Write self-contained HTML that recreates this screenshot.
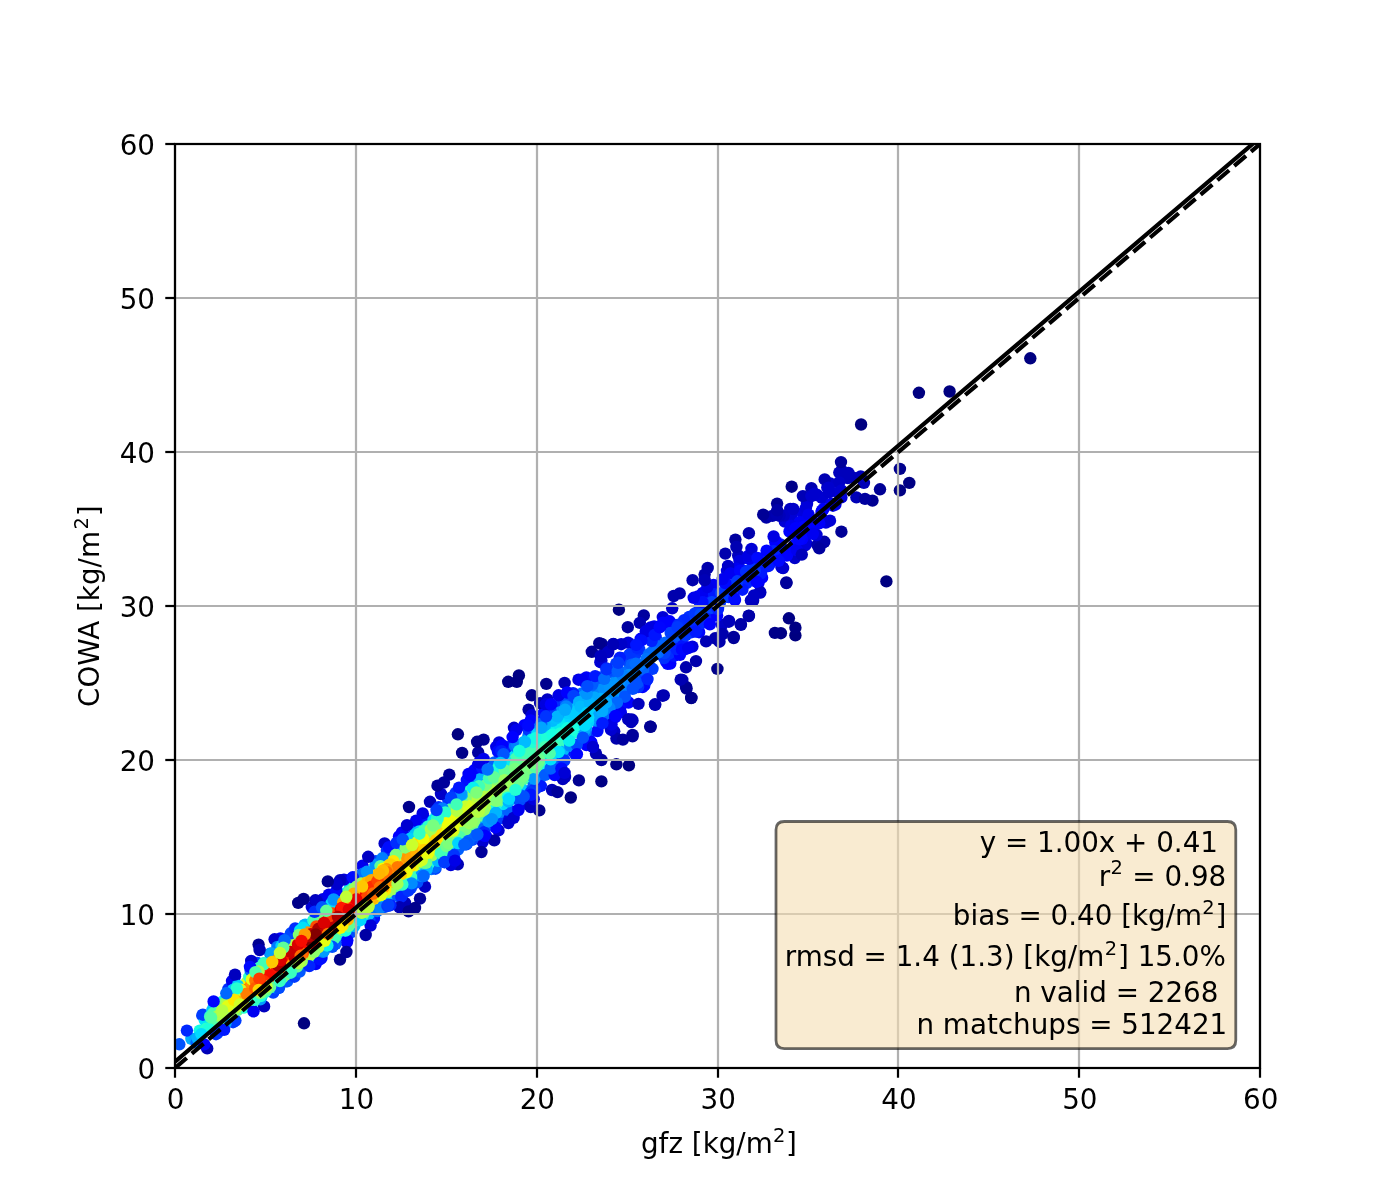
<!DOCTYPE html>
<html lang="en"><head><meta charset="utf-8"><title>gfz vs COWA scatter</title>
<style>html,body{margin:0;padding:0;background:#fff}svg{display:block}text{font-family:"DejaVu Sans","Liberation Sans",sans-serif;fill:#000}</style></head><body>
<svg width="1400" height="1200" viewBox="0 0 1400 1200">
<defs><clipPath id="ax"><rect x="175" y="144" width="1085" height="924"/></clipPath></defs>
<rect width="1400" height="1200" fill="#fff"/>
<g clip-path="url(#ax)">
<circle cx="766.4" cy="517.6" r="6.21" fill="#0000a8"/>
<circle cx="199.7" cy="1030.7" r="6.21" fill="#13fce4"/>
<circle cx="268.9" cy="991.0" r="6.21" fill="#00e4f8"/>
<circle cx="480.0" cy="796.0" r="6.21" fill="#baff3c"/>
<circle cx="302.9" cy="960.2" r="6.21" fill="#a0ff56"/>
<circle cx="699.1" cy="632.2" r="6.21" fill="#0004ff"/>
<circle cx="393.0" cy="859.6" r="6.21" fill="#c7ff30"/>
<circle cx="514.8" cy="756.8" r="6.21" fill="#30ffc7"/>
<circle cx="533.1" cy="750.8" r="6.21" fill="#40ffb7"/>
<circle cx="417.0" cy="867.2" r="6.21" fill="#a7ff50"/>
<circle cx="807.0" cy="504.0" r="6.21" fill="#0000d6"/>
<circle cx="414.4" cy="855.4" r="6.21" fill="#ffae00"/>
<circle cx="521.9" cy="778.3" r="6.21" fill="#6dff8a"/>
<circle cx="589.6" cy="697.2" r="6.21" fill="#00a8ff"/>
<circle cx="420.2" cy="827.5" r="6.21" fill="#0084ff"/>
<circle cx="248.8" cy="995.2" r="6.21" fill="#ffae00"/>
<circle cx="544.1" cy="774.2" r="6.21" fill="#0068ff"/>
<circle cx="556.2" cy="731.2" r="6.21" fill="#0ff8e7"/>
<circle cx="214.0" cy="1006.9" r="6.21" fill="#0094ff"/>
<circle cx="297.4" cy="941.7" r="6.21" fill="#ff7300"/>
<circle cx="542.3" cy="733.0" r="6.21" fill="#0ff8e7"/>
<circle cx="267.5" cy="978.4" r="6.21" fill="#ff2500"/>
<circle cx="577.9" cy="712.6" r="6.21" fill="#00c8ff"/>
<circle cx="299.8" cy="947.7" r="6.21" fill="#800000"/>
<circle cx="817.6" cy="495.3" r="6.21" fill="#0000d1"/>
<circle cx="528.4" cy="735.7" r="6.21" fill="#007cff"/>
<circle cx="690.8" cy="616.9" r="6.21" fill="#0038ff"/>
<circle cx="422.9" cy="848.5" r="6.21" fill="#ffc100"/>
<circle cx="285.6" cy="959.8" r="6.21" fill="#960000"/>
<circle cx="467.6" cy="787.5" r="6.21" fill="#0080ff"/>
<circle cx="410.1" cy="873.2" r="6.21" fill="#a0ff56"/>
<circle cx="724.5" cy="581.7" r="6.21" fill="#0000ff"/>
<circle cx="339.2" cy="918.9" r="6.21" fill="#df0000"/>
<circle cx="497.8" cy="792.4" r="6.21" fill="#aaff4d"/>
<circle cx="269.4" cy="981.9" r="6.21" fill="#ffbd00"/>
<circle cx="444.1" cy="848.2" r="6.21" fill="#6aff8d"/>
<circle cx="281.5" cy="975.8" r="6.21" fill="#c1ff36"/>
<circle cx="272.6" cy="974.8" r="6.21" fill="#ff1e00"/>
<circle cx="791.7" cy="486.7" r="6.21" fill="#000089"/>
<circle cx="527.0" cy="796.6" r="6.21" fill="#0028ff"/>
<circle cx="391.4" cy="875.3" r="6.21" fill="#ff7700"/>
<circle cx="824.3" cy="541.8" r="6.21" fill="#0000a4"/>
<circle cx="490.3" cy="780.3" r="6.21" fill="#66ff90"/>
<circle cx="343.6" cy="905.7" r="6.21" fill="#ff2900"/>
<circle cx="417.4" cy="874.2" r="6.21" fill="#0cf4eb"/>
<circle cx="320.0" cy="936.7" r="6.21" fill="#ed0400"/>
<circle cx="264.8" cy="979.4" r="6.21" fill="#ff1a00"/>
<circle cx="286.3" cy="951.2" r="6.21" fill="#ff7a00"/>
<circle cx="368.9" cy="875.2" r="6.21" fill="#50ffa7"/>
<circle cx="582.0" cy="693.4" r="6.21" fill="#0070ff"/>
<circle cx="482.7" cy="841.9" r="6.21" fill="#0000d1"/>
<circle cx="367.6" cy="886.5" r="6.21" fill="#ff4a00"/>
<circle cx="286.4" cy="952.5" r="6.21" fill="#ff3f00"/>
<circle cx="285.6" cy="981.3" r="6.21" fill="#007cff"/>
<circle cx="564.6" cy="682.9" r="6.21" fill="#0000b2"/>
<circle cx="508.4" cy="773.3" r="6.21" fill="#80ff77"/>
<circle cx="275.9" cy="975.1" r="6.21" fill="#ff7300"/>
<circle cx="381.5" cy="895.4" r="6.21" fill="#caff2c"/>
<circle cx="729.7" cy="590.9" r="6.21" fill="#003cff"/>
<circle cx="686.8" cy="647.3" r="6.21" fill="#0000ff"/>
<circle cx="246.7" cy="1005.3" r="6.21" fill="#33ffc4"/>
<circle cx="764.0" cy="558.9" r="6.21" fill="#0028ff"/>
<circle cx="289.0" cy="959.2" r="6.21" fill="#9f0000"/>
<circle cx="552.0" cy="790.0" r="6.21" fill="#0000b6"/>
<circle cx="422.0" cy="869.2" r="6.21" fill="#29ffce"/>
<circle cx="899.9" cy="490.4" r="6.21" fill="#000084"/>
<circle cx="529.1" cy="804.8" r="6.21" fill="#0000d6"/>
<circle cx="435.7" cy="817.6" r="6.21" fill="#00d0ff"/>
<circle cx="310.4" cy="951.1" r="6.21" fill="#ffde00"/>
<circle cx="365.5" cy="890.0" r="6.21" fill="#ff2900"/>
<circle cx="558.9" cy="766.7" r="6.21" fill="#0030ff"/>
<circle cx="246.1" cy="988.0" r="6.21" fill="#ffae00"/>
<circle cx="601.7" cy="644.0" r="6.21" fill="#000096"/>
<circle cx="628.9" cy="765.4" r="6.21" fill="#000080"/>
<circle cx="256.6" cy="979.8" r="6.21" fill="#ff6000"/>
<circle cx="254.6" cy="988.1" r="6.21" fill="#ff5500"/>
<circle cx="352.1" cy="903.9" r="6.21" fill="#da0000"/>
<circle cx="338.6" cy="899.2" r="6.21" fill="#33ffc4"/>
<circle cx="296.6" cy="929.7" r="6.21" fill="#0068ff"/>
<circle cx="265.0" cy="980.8" r="6.21" fill="#ff3800"/>
<circle cx="328.2" cy="909.5" r="6.21" fill="#6aff8d"/>
<circle cx="342.6" cy="896.8" r="6.21" fill="#53ffa4"/>
<circle cx="356.6" cy="910.2" r="6.21" fill="#ff8600"/>
<circle cx="289.6" cy="955.3" r="6.21" fill="#920000"/>
<circle cx="317.6" cy="917.5" r="6.21" fill="#46ffb1"/>
<circle cx="333.0" cy="925.9" r="6.21" fill="#ff1300"/>
<circle cx="411.5" cy="832.8" r="6.21" fill="#005cff"/>
<circle cx="490.1" cy="808.1" r="6.21" fill="#70ff87"/>
<circle cx="462.0" cy="802.1" r="6.21" fill="#66ff90"/>
<circle cx="382.3" cy="867.0" r="6.21" fill="#a7ff50"/>
<circle cx="380.7" cy="884.0" r="6.21" fill="#ff5900"/>
<circle cx="483.6" cy="800.7" r="6.21" fill="#c1ff36"/>
<circle cx="289.9" cy="966.3" r="6.21" fill="#ffb900"/>
<circle cx="786.4" cy="582.5" r="6.21" fill="#00009b"/>
<circle cx="512.8" cy="771.9" r="6.21" fill="#80ff77"/>
<circle cx="673.6" cy="624.9" r="6.21" fill="#0014ff"/>
<circle cx="191.4" cy="1038.8" r="6.21" fill="#00b0ff"/>
<circle cx="856.4" cy="497.4" r="6.21" fill="#0000b6"/>
<circle cx="338.3" cy="924.6" r="6.21" fill="#ff6400"/>
<circle cx="247.3" cy="989.1" r="6.21" fill="#ff7e00"/>
<circle cx="346.8" cy="942.2" r="6.21" fill="#0000e3"/>
<circle cx="601.4" cy="781.4" r="6.21" fill="#000084"/>
<circle cx="378.9" cy="871.0" r="6.21" fill="#d7ff1f"/>
<circle cx="208.1" cy="1026.0" r="6.21" fill="#43ffb4"/>
<circle cx="632.5" cy="720.4" r="6.21" fill="#0000bb"/>
<circle cx="308.1" cy="948.3" r="6.21" fill="#ff3400"/>
<circle cx="379.1" cy="866.2" r="6.21" fill="#36ffc1"/>
<circle cx="540.6" cy="754.9" r="6.21" fill="#60ff97"/>
<circle cx="732.2" cy="596.5" r="6.21" fill="#0020ff"/>
<circle cx="261.9" cy="995.4" r="6.21" fill="#16ffe1"/>
<circle cx="315.7" cy="964.1" r="6.21" fill="#0000fa"/>
<circle cx="373.0" cy="903.9" r="6.21" fill="#a4ff53"/>
<circle cx="418.9" cy="855.7" r="6.21" fill="#ffcc00"/>
<circle cx="517.6" cy="769.7" r="6.21" fill="#7dff7a"/>
<circle cx="407.1" cy="873.2" r="6.21" fill="#d1ff26"/>
<circle cx="334.8" cy="931.4" r="6.21" fill="#ffdb00"/>
<circle cx="376.7" cy="862.6" r="6.21" fill="#0074ff"/>
<circle cx="516.7" cy="797.4" r="6.21" fill="#0088ff"/>
<circle cx="373.9" cy="918.2" r="6.21" fill="#0014ff"/>
<circle cx="542.0" cy="733.8" r="6.21" fill="#13fce4"/>
<circle cx="614.2" cy="731.3" r="6.21" fill="#0000c4"/>
<circle cx="519.8" cy="801.4" r="6.21" fill="#003cff"/>
<circle cx="396.3" cy="850.1" r="6.21" fill="#00dcfe"/>
<circle cx="274.7" cy="986.5" r="6.21" fill="#06ecf1"/>
<circle cx="262.6" cy="974.9" r="6.21" fill="#ff3f00"/>
<circle cx="557.8" cy="706.5" r="6.21" fill="#002cff"/>
<circle cx="295.4" cy="943.0" r="6.21" fill="#ff8600"/>
<circle cx="407.8" cy="858.7" r="6.21" fill="#ff9800"/>
<circle cx="672.2" cy="608.3" r="6.21" fill="#0000c8"/>
<circle cx="362.6" cy="896.1" r="6.21" fill="#ff1300"/>
<circle cx="277.6" cy="962.5" r="6.21" fill="#e80000"/>
<circle cx="501.8" cy="804.5" r="6.21" fill="#02e8f4"/>
<circle cx="255.6" cy="971.8" r="6.21" fill="#49ffad"/>
<circle cx="770.6" cy="561.9" r="6.21" fill="#001cff"/>
<circle cx="272.9" cy="964.0" r="6.21" fill="#ff5900"/>
<circle cx="487.1" cy="782.2" r="6.21" fill="#60ff97"/>
<circle cx="624.1" cy="688.3" r="6.21" fill="#007cff"/>
<circle cx="605.8" cy="715.1" r="6.21" fill="#0058ff"/>
<circle cx="298.1" cy="946.4" r="6.21" fill="#9f0000"/>
<circle cx="440.6" cy="847.5" r="6.21" fill="#a4ff53"/>
<circle cx="830.2" cy="483.4" r="6.21" fill="#0000c8"/>
<circle cx="509.4" cy="754.4" r="6.21" fill="#00b4ff"/>
<circle cx="592.1" cy="702.2" r="6.21" fill="#00b4ff"/>
<circle cx="454.6" cy="816.6" r="6.21" fill="#e4ff13"/>
<circle cx="506.8" cy="772.8" r="6.21" fill="#7aff7d"/>
<circle cx="437.7" cy="823.8" r="6.21" fill="#a0ff56"/>
<circle cx="331.4" cy="917.7" r="6.21" fill="#c80000"/>
<circle cx="293.2" cy="944.9" r="6.21" fill="#ff8600"/>
<circle cx="319.6" cy="937.2" r="6.21" fill="#f10800"/>
<circle cx="398.5" cy="861.3" r="6.21" fill="#ff9800"/>
<circle cx="273.2" cy="992.6" r="6.21" fill="#0040ff"/>
<circle cx="510.4" cy="775.6" r="6.21" fill="#8dff6a"/>
<circle cx="738.2" cy="555.5" r="6.21" fill="#0000bf"/>
<circle cx="466.1" cy="833.5" r="6.21" fill="#29ffce"/>
<circle cx="394.1" cy="876.2" r="6.21" fill="#ff9800"/>
<circle cx="416.9" cy="868.7" r="6.21" fill="#8aff6d"/>
<circle cx="364.8" cy="908.7" r="6.21" fill="#d7ff1f"/>
<circle cx="426.7" cy="838.6" r="6.21" fill="#ffdb00"/>
<circle cx="374.0" cy="869.0" r="6.21" fill="#0ff8e7"/>
<circle cx="520.8" cy="775.2" r="6.21" fill="#87ff70"/>
<circle cx="345.3" cy="920.8" r="6.21" fill="#ffa300"/>
<circle cx="715.1" cy="638.3" r="6.21" fill="#0000ad"/>
<circle cx="557.5" cy="792.1" r="6.21" fill="#00009b"/>
<circle cx="391.8" cy="889.9" r="6.21" fill="#80ff77"/>
<circle cx="553.6" cy="714.4" r="6.21" fill="#006cff"/>
<circle cx="276.4" cy="967.5" r="6.21" fill="#b60000"/>
<circle cx="332.8" cy="937.1" r="6.21" fill="#90ff66"/>
<circle cx="430.0" cy="801.8" r="6.21" fill="#0000b6"/>
<circle cx="499.1" cy="779.0" r="6.21" fill="#8aff6d"/>
<circle cx="841.4" cy="531.7" r="6.21" fill="#000096"/>
<circle cx="315.0" cy="921.0" r="6.21" fill="#77ff80"/>
<circle cx="318.4" cy="936.8" r="6.21" fill="#c80000"/>
<circle cx="705.3" cy="606.2" r="6.21" fill="#003cff"/>
<circle cx="351.8" cy="913.2" r="6.21" fill="#ff6c00"/>
<circle cx="388.2" cy="899.1" r="6.21" fill="#00c0ff"/>
<circle cx="498.5" cy="830.4" r="6.21" fill="#0000d1"/>
<circle cx="539.8" cy="768.1" r="6.21" fill="#13fce4"/>
<circle cx="253.3" cy="975.6" r="6.21" fill="#8aff6d"/>
<circle cx="539.0" cy="742.0" r="6.21" fill="#29ffce"/>
<circle cx="392.0" cy="862.4" r="6.21" fill="#ffe600"/>
<circle cx="614.7" cy="691.6" r="6.21" fill="#009cff"/>
<circle cx="350.6" cy="905.3" r="6.21" fill="#d60000"/>
<circle cx="463.9" cy="828.5" r="6.21" fill="#97ff60"/>
<circle cx="269.2" cy="979.1" r="6.21" fill="#ff5500"/>
<circle cx="379.4" cy="891.7" r="6.21" fill="#ffab00"/>
<circle cx="410.9" cy="887.8" r="6.21" fill="#0040ff"/>
<circle cx="233.1" cy="1022.2" r="6.21" fill="#003cff"/>
<circle cx="791.6" cy="515.4" r="6.21" fill="#0000d6"/>
<circle cx="395.2" cy="865.7" r="6.21" fill="#ff7e00"/>
<circle cx="336.6" cy="913.9" r="6.21" fill="#c80000"/>
<circle cx="432.6" cy="852.6" r="6.21" fill="#baff3c"/>
<circle cx="634.2" cy="684.2" r="6.21" fill="#005cff"/>
<circle cx="487.9" cy="811.2" r="6.21" fill="#63ff94"/>
<circle cx="589.1" cy="734.0" r="6.21" fill="#0034ff"/>
<circle cx="528.6" cy="709.6" r="6.21" fill="#00009f"/>
<circle cx="728.9" cy="621.7" r="6.21" fill="#0000b6"/>
<circle cx="306.1" cy="957.0" r="6.21" fill="#b7ff40"/>
<circle cx="539.6" cy="737.7" r="6.21" fill="#1cffdb"/>
<circle cx="627.1" cy="660.1" r="6.21" fill="#0044ff"/>
<circle cx="752.3" cy="567.7" r="6.21" fill="#002cff"/>
<circle cx="245.9" cy="995.6" r="6.21" fill="#ff9400"/>
<circle cx="262.3" cy="981.7" r="6.21" fill="#ff2900"/>
<circle cx="554.1" cy="721.8" r="6.21" fill="#00d8ff"/>
<circle cx="524.1" cy="778.9" r="6.21" fill="#50ffa7"/>
<circle cx="350.3" cy="910.7" r="6.21" fill="#ff1e00"/>
<circle cx="464.0" cy="834.6" r="6.21" fill="#33ffc4"/>
<circle cx="496.6" cy="793.0" r="6.21" fill="#aaff4d"/>
<circle cx="421.5" cy="855.0" r="6.21" fill="#ffde00"/>
<circle cx="563.3" cy="722.5" r="6.21" fill="#00e4f8"/>
<circle cx="317.1" cy="944.2" r="6.21" fill="#ffa700"/>
<circle cx="329.2" cy="943.8" r="6.21" fill="#16ffe1"/>
<circle cx="358.6" cy="878.4" r="6.21" fill="#008cff"/>
<circle cx="254.9" cy="995.4" r="6.21" fill="#b7ff40"/>
<circle cx="237.4" cy="1010.1" r="6.21" fill="#5dff9a"/>
<circle cx="588.8" cy="741.1" r="6.21" fill="#0008ff"/>
<circle cx="451.3" cy="836.6" r="6.21" fill="#b4ff43"/>
<circle cx="671.6" cy="642.5" r="6.21" fill="#0058ff"/>
<circle cx="202.3" cy="1015.4" r="6.21" fill="#003cff"/>
<circle cx="555.2" cy="748.4" r="6.21" fill="#43ffb4"/>
<circle cx="518.9" cy="675.4" r="6.21" fill="#000084"/>
<circle cx="549.0" cy="757.8" r="6.21" fill="#29ffce"/>
<circle cx="321.5" cy="958.1" r="6.21" fill="#0008ff"/>
<circle cx="441.9" cy="826.6" r="6.21" fill="#f8f500"/>
<circle cx="358.2" cy="910.2" r="6.21" fill="#ffa700"/>
<circle cx="837.9" cy="492.6" r="6.21" fill="#0000d6"/>
<circle cx="587.8" cy="710.5" r="6.21" fill="#00ccff"/>
<circle cx="590.6" cy="699.2" r="6.21" fill="#00acff"/>
<circle cx="262.8" cy="979.2" r="6.21" fill="#ff1300"/>
<circle cx="613.0" cy="689.6" r="6.21" fill="#00a0ff"/>
<circle cx="356.4" cy="896.4" r="6.21" fill="#ff2200"/>
<circle cx="551.4" cy="758.2" r="6.21" fill="#02e8f4"/>
<circle cx="445.9" cy="828.2" r="6.21" fill="#ffea00"/>
<circle cx="503.8" cy="770.8" r="6.21" fill="#63ff94"/>
<circle cx="264.4" cy="982.1" r="6.21" fill="#ff4e00"/>
<circle cx="555.3" cy="768.6" r="6.21" fill="#0040ff"/>
<circle cx="331.1" cy="917.3" r="6.21" fill="#da0000"/>
<circle cx="243.3" cy="1002.7" r="6.21" fill="#c7ff30"/>
<circle cx="434.8" cy="858.7" r="6.21" fill="#30ffc7"/>
<circle cx="660.8" cy="646.1" r="6.21" fill="#0064ff"/>
<circle cx="563.7" cy="751.1" r="6.21" fill="#0098ff"/>
<circle cx="499.6" cy="806.4" r="6.21" fill="#06ecf1"/>
<circle cx="238.8" cy="995.5" r="6.21" fill="#ffc400"/>
<circle cx="290.3" cy="942.4" r="6.21" fill="#83ff73"/>
<circle cx="227.5" cy="1007.8" r="6.21" fill="#e1ff16"/>
<circle cx="597.4" cy="731.0" r="6.21" fill="#000cff"/>
<circle cx="571.2" cy="750.3" r="6.21" fill="#0048ff"/>
<circle cx="443.5" cy="843.5" r="6.21" fill="#b7ff40"/>
<circle cx="490.8" cy="797.1" r="6.21" fill="#b4ff43"/>
<circle cx="312.0" cy="933.5" r="6.21" fill="#bf0000"/>
<circle cx="461.5" cy="809.2" r="6.21" fill="#caff2c"/>
<circle cx="560.0" cy="704.7" r="6.21" fill="#002cff"/>
<circle cx="264.5" cy="963.2" r="6.21" fill="#36ffc1"/>
<circle cx="722.0" cy="625.0" r="6.21" fill="#0000c4"/>
<circle cx="521.5" cy="780.6" r="6.21" fill="#5aff9d"/>
<circle cx="359.1" cy="875.7" r="6.21" fill="#0050ff"/>
<circle cx="253.0" cy="1002.0" r="6.21" fill="#13fce4"/>
<circle cx="806.3" cy="543.5" r="6.21" fill="#0000df"/>
<circle cx="492.8" cy="808.1" r="6.21" fill="#4dffaa"/>
<circle cx="288.5" cy="956.2" r="6.21" fill="#920000"/>
<circle cx="296.4" cy="943.1" r="6.21" fill="#ff5d00"/>
<circle cx="326.4" cy="911.2" r="6.21" fill="#73ff83"/>
<circle cx="472.0" cy="805.8" r="6.21" fill="#d4ff23"/>
<circle cx="404.3" cy="857.9" r="6.21" fill="#ff9c00"/>
<circle cx="550.1" cy="754.5" r="6.21" fill="#40ffb7"/>
<circle cx="470.1" cy="820.6" r="6.21" fill="#adff49"/>
<circle cx="437.1" cy="844.1" r="6.21" fill="#e7ff0f"/>
<circle cx="622.1" cy="658.2" r="6.21" fill="#0030ff"/>
<circle cx="348.1" cy="908.5" r="6.21" fill="#d10000"/>
<circle cx="446.4" cy="823.2" r="6.21" fill="#f1fc06"/>
<circle cx="223.3" cy="1013.8" r="6.21" fill="#b4ff43"/>
<circle cx="461.3" cy="817.8" r="6.21" fill="#e4ff13"/>
<circle cx="305.0" cy="931.3" r="6.21" fill="#c4ff33"/>
<circle cx="464.8" cy="823.1" r="6.21" fill="#beff39"/>
<circle cx="216.9" cy="1033.0" r="6.21" fill="#003cff"/>
<circle cx="385.9" cy="871.0" r="6.21" fill="#ff8200"/>
<circle cx="363.8" cy="902.3" r="6.21" fill="#ff6800"/>
<circle cx="514.7" cy="811.6" r="6.21" fill="#0000ff"/>
<circle cx="253.6" cy="991.8" r="6.21" fill="#ff9f00"/>
<circle cx="314.8" cy="937.1" r="6.21" fill="#8d0000"/>
<circle cx="499.8" cy="800.1" r="6.21" fill="#63ff94"/>
<circle cx="790.3" cy="509.0" r="6.21" fill="#0000bf"/>
<circle cx="392.3" cy="887.6" r="6.21" fill="#adff49"/>
<circle cx="374.3" cy="891.9" r="6.21" fill="#ff6400"/>
<circle cx="593.3" cy="690.8" r="6.21" fill="#0090ff"/>
<circle cx="415.0" cy="847.1" r="6.21" fill="#ffcc00"/>
<circle cx="798.1" cy="537.6" r="6.21" fill="#0008ff"/>
<circle cx="659.6" cy="648.3" r="6.21" fill="#006cff"/>
<circle cx="497.5" cy="786.9" r="6.21" fill="#aaff4d"/>
<circle cx="510.9" cy="776.8" r="6.21" fill="#90ff66"/>
<circle cx="643.8" cy="615.4" r="6.21" fill="#00009f"/>
<circle cx="249.0" cy="997.6" r="6.21" fill="#f1fc06"/>
<circle cx="689.2" cy="616.9" r="6.21" fill="#0030ff"/>
<circle cx="502.5" cy="807.1" r="6.21" fill="#00b4ff"/>
<circle cx="520.0" cy="796.9" r="6.21" fill="#0070ff"/>
<circle cx="366.2" cy="918.8" r="6.21" fill="#0080ff"/>
<circle cx="509.2" cy="799.0" r="6.21" fill="#00d0ff"/>
<circle cx="389.4" cy="873.3" r="6.21" fill="#ff6400"/>
<circle cx="273.0" cy="964.2" r="6.21" fill="#ff4e00"/>
<circle cx="389.9" cy="849.5" r="6.21" fill="#0044ff"/>
<circle cx="783.1" cy="568.1" r="6.21" fill="#0000c8"/>
<circle cx="270.7" cy="983.3" r="6.21" fill="#d4ff23"/>
<circle cx="278.5" cy="979.1" r="6.21" fill="#9aff5d"/>
<circle cx="525.5" cy="751.1" r="6.21" fill="#39ffbe"/>
<circle cx="578.5" cy="679.7" r="6.21" fill="#0000e3"/>
<circle cx="625.7" cy="679.9" r="6.21" fill="#008cff"/>
<circle cx="455.3" cy="837.0" r="6.21" fill="#87ff70"/>
<circle cx="284.3" cy="980.1" r="6.21" fill="#00c8ff"/>
<circle cx="404.8" cy="892.1" r="6.21" fill="#0048ff"/>
<circle cx="245.4" cy="993.4" r="6.21" fill="#ff7e00"/>
<circle cx="358.0" cy="893.0" r="6.21" fill="#ff5500"/>
<circle cx="491.2" cy="790.3" r="6.21" fill="#b1ff46"/>
<circle cx="452.5" cy="819.3" r="6.21" fill="#eeff09"/>
<circle cx="603.8" cy="687.8" r="6.21" fill="#0090ff"/>
<circle cx="403.2" cy="875.1" r="6.21" fill="#eeff09"/>
<circle cx="739.5" cy="561.0" r="6.21" fill="#0000df"/>
<circle cx="341.4" cy="933.2" r="6.21" fill="#30ffc7"/>
<circle cx="750.3" cy="569.9" r="6.21" fill="#0030ff"/>
<circle cx="517.0" cy="760.7" r="6.21" fill="#53ffa4"/>
<circle cx="573.3" cy="732.5" r="6.21" fill="#1fffd7"/>
<circle cx="186.9" cy="1030.6" r="6.21" fill="#0028ff"/>
<circle cx="526.0" cy="767.4" r="6.21" fill="#7dff7a"/>
<circle cx="634.7" cy="645.4" r="6.21" fill="#000cff"/>
<circle cx="225.9" cy="1005.2" r="6.21" fill="#baff3c"/>
<circle cx="531.9" cy="790.5" r="6.21" fill="#0040ff"/>
<circle cx="609.1" cy="696.7" r="6.21" fill="#00a8ff"/>
<circle cx="287.4" cy="955.4" r="6.21" fill="#b20000"/>
<circle cx="354.0" cy="915.6" r="6.21" fill="#ffde00"/>
<circle cx="261.1" cy="996.7" r="6.21" fill="#00e4f8"/>
<circle cx="385.7" cy="901.4" r="6.21" fill="#00b8ff"/>
<circle cx="498.8" cy="818.8" r="6.21" fill="#003cff"/>
<circle cx="511.2" cy="760.6" r="6.21" fill="#39ffbe"/>
<circle cx="487.6" cy="801.2" r="6.21" fill="#b4ff43"/>
<circle cx="795.4" cy="635.4" r="6.21" fill="#000080"/>
<circle cx="728.5" cy="597.0" r="6.21" fill="#002cff"/>
<circle cx="382.6" cy="882.7" r="6.21" fill="#ff6000"/>
<circle cx="698.3" cy="617.5" r="6.21" fill="#004cff"/>
<circle cx="554.2" cy="746.4" r="6.21" fill="#4dffaa"/>
<circle cx="626.1" cy="678.8" r="6.21" fill="#008cff"/>
<circle cx="595.3" cy="691.3" r="6.21" fill="#0094ff"/>
<circle cx="531.4" cy="753.8" r="6.21" fill="#49ffad"/>
<circle cx="487.0" cy="802.7" r="6.21" fill="#b1ff46"/>
<circle cx="811.4" cy="488.2" r="6.21" fill="#0000b2"/>
<circle cx="574.8" cy="725.0" r="6.21" fill="#13fce4"/>
<circle cx="280.8" cy="968.6" r="6.21" fill="#ff1300"/>
<circle cx="271.3" cy="976.1" r="6.21" fill="#ff2900"/>
<circle cx="404.0" cy="887.6" r="6.21" fill="#00acff"/>
<circle cx="294.2" cy="969.6" r="6.21" fill="#46ffb1"/>
<circle cx="624.6" cy="672.7" r="6.21" fill="#0078ff"/>
<circle cx="439.0" cy="838.3" r="6.21" fill="#feed00"/>
<circle cx="266.1" cy="969.7" r="6.21" fill="#ff7300"/>
<circle cx="511.4" cy="754.4" r="6.21" fill="#00d4ff"/>
<circle cx="514.0" cy="727.8" r="6.21" fill="#0000c8"/>
<circle cx="595.8" cy="720.6" r="6.21" fill="#0090ff"/>
<circle cx="521.6" cy="755.1" r="6.21" fill="#43ffb4"/>
<circle cx="335.1" cy="903.3" r="6.21" fill="#5dff9a"/>
<circle cx="719.5" cy="641.7" r="6.21" fill="#0000ad"/>
<circle cx="381.3" cy="871.5" r="6.21" fill="#ffc800"/>
<circle cx="616.4" cy="738.6" r="6.21" fill="#0000ad"/>
<circle cx="802.9" cy="496.1" r="6.21" fill="#0000b6"/>
<circle cx="296.7" cy="957.6" r="6.21" fill="#ff3b00"/>
<circle cx="466.7" cy="828.5" r="6.21" fill="#73ff83"/>
<circle cx="345.4" cy="908.2" r="6.21" fill="#c80000"/>
<circle cx="353.9" cy="904.9" r="6.21" fill="#ed0400"/>
<circle cx="257.9" cy="982.2" r="6.21" fill="#ff2d00"/>
<circle cx="370.3" cy="884.9" r="6.21" fill="#ff4700"/>
<circle cx="649.6" cy="635.1" r="6.21" fill="#000cff"/>
<circle cx="494.3" cy="802.3" r="6.21" fill="#87ff70"/>
<circle cx="574.1" cy="710.8" r="6.21" fill="#00c8ff"/>
<circle cx="555.8" cy="743.0" r="6.21" fill="#46ffb1"/>
<circle cx="667.8" cy="659.4" r="6.21" fill="#0020ff"/>
<circle cx="474.0" cy="823.8" r="6.21" fill="#5aff9d"/>
<circle cx="422.4" cy="837.8" r="6.21" fill="#d4ff23"/>
<circle cx="413.4" cy="829.4" r="6.21" fill="#0038ff"/>
<circle cx="283.3" cy="961.2" r="6.21" fill="#9b0000"/>
<circle cx="548.6" cy="752.3" r="6.21" fill="#56ffa0"/>
<circle cx="387.6" cy="892.0" r="6.21" fill="#a0ff56"/>
<circle cx="378.7" cy="890.2" r="6.21" fill="#ff8900"/>
<circle cx="439.6" cy="832.6" r="6.21" fill="#ffde00"/>
<circle cx="276.9" cy="972.9" r="6.21" fill="#ff3f00"/>
<circle cx="435.8" cy="835.6" r="6.21" fill="#ffd700"/>
<circle cx="334.2" cy="921.5" r="6.21" fill="#b60000"/>
<circle cx="762.1" cy="577.7" r="6.21" fill="#0000ff"/>
<circle cx="448.1" cy="799.3" r="6.21" fill="#0030ff"/>
<circle cx="309.1" cy="939.3" r="6.21" fill="#800000"/>
<circle cx="291.4" cy="958.3" r="6.21" fill="#b60000"/>
<circle cx="518.1" cy="794.2" r="6.21" fill="#009cff"/>
<circle cx="270.5" cy="973.4" r="6.21" fill="#d60000"/>
<circle cx="297.3" cy="954.9" r="6.21" fill="#da0000"/>
<circle cx="343.4" cy="905.3" r="6.21" fill="#ff3800"/>
<circle cx="460.3" cy="831.1" r="6.21" fill="#9dff5a"/>
<circle cx="462.3" cy="806.1" r="6.21" fill="#aaff4d"/>
<circle cx="547.9" cy="743.6" r="6.21" fill="#36ffc1"/>
<circle cx="270.2" cy="953.7" r="6.21" fill="#0080ff"/>
<circle cx="248.4" cy="991.5" r="6.21" fill="#ff6c00"/>
<circle cx="821.5" cy="512.1" r="6.21" fill="#0000fa"/>
<circle cx="278.8" cy="942.1" r="6.21" fill="#001cff"/>
<circle cx="385.5" cy="875.6" r="6.21" fill="#ff5900"/>
<circle cx="450.3" cy="854.7" r="6.21" fill="#0070ff"/>
<circle cx="240.4" cy="1001.7" r="6.21" fill="#ffde00"/>
<circle cx="835.4" cy="504.5" r="6.21" fill="#0000e3"/>
<circle cx="454.3" cy="847.5" r="6.21" fill="#00bcff"/>
<circle cx="333.8" cy="903.2" r="6.21" fill="#33ffc4"/>
<circle cx="475.8" cy="805.1" r="6.21" fill="#d1ff26"/>
<circle cx="440.4" cy="834.0" r="6.21" fill="#ffe200"/>
<circle cx="327.0" cy="923.4" r="6.21" fill="#9f0000"/>
<circle cx="468.6" cy="836.4" r="6.21" fill="#00b4ff"/>
<circle cx="322.3" cy="934.0" r="6.21" fill="#d60000"/>
<circle cx="308.5" cy="953.0" r="6.21" fill="#ffea00"/>
<circle cx="704.6" cy="574.6" r="6.21" fill="#0000ad"/>
<circle cx="265.3" cy="990.8" r="6.21" fill="#5dff9a"/>
<circle cx="488.4" cy="805.9" r="6.21" fill="#9aff5d"/>
<circle cx="399.2" cy="856.7" r="6.21" fill="#fbf100"/>
<circle cx="655.7" cy="637.2" r="6.21" fill="#001cff"/>
<circle cx="581.7" cy="706.2" r="6.21" fill="#00bcff"/>
<circle cx="425.4" cy="850.1" r="6.21" fill="#ffd700"/>
<circle cx="389.6" cy="876.9" r="6.21" fill="#ff7300"/>
<circle cx="461.7" cy="810.2" r="6.21" fill="#d4ff23"/>
<circle cx="549.3" cy="767.3" r="6.21" fill="#0078ff"/>
<circle cx="377.1" cy="887.7" r="6.21" fill="#ff5500"/>
<circle cx="285.2" cy="959.7" r="6.21" fill="#960000"/>
<circle cx="344.9" cy="916.5" r="6.21" fill="#ff2d00"/>
<circle cx="359.2" cy="902.6" r="6.21" fill="#ff2900"/>
<circle cx="364.3" cy="904.8" r="6.21" fill="#ffa300"/>
<circle cx="454.9" cy="819.5" r="6.21" fill="#f1fc06"/>
<circle cx="608.2" cy="652.0" r="6.21" fill="#0000c4"/>
<circle cx="802.7" cy="513.1" r="6.21" fill="#0000df"/>
<circle cx="353.1" cy="892.3" r="6.21" fill="#eeff09"/>
<circle cx="644.3" cy="685.3" r="6.21" fill="#0008ff"/>
<circle cx="476.1" cy="782.0" r="6.21" fill="#00a8ff"/>
<circle cx="339.4" cy="918.9" r="6.21" fill="#df0000"/>
<circle cx="386.2" cy="888.9" r="6.21" fill="#ffea00"/>
<circle cx="513.8" cy="765.6" r="6.21" fill="#63ff94"/>
<circle cx="593.8" cy="705.8" r="6.21" fill="#00c0ff"/>
<circle cx="312.3" cy="949.4" r="6.21" fill="#ffd300"/>
<circle cx="561.7" cy="741.5" r="6.21" fill="#3cffba"/>
<circle cx="479.3" cy="819.5" r="6.21" fill="#56ffa0"/>
<circle cx="786.4" cy="583.1" r="6.21" fill="#00009b"/>
<circle cx="434.5" cy="834.4" r="6.21" fill="#ffdb00"/>
<circle cx="493.8" cy="794.3" r="6.21" fill="#b1ff46"/>
<circle cx="616.2" cy="663.6" r="6.21" fill="#0038ff"/>
<circle cx="268.0" cy="983.7" r="6.21" fill="#ffde00"/>
<circle cx="437.4" cy="829.6" r="6.21" fill="#f8f500"/>
<circle cx="246.8" cy="986.5" r="6.21" fill="#ffc100"/>
<circle cx="527.6" cy="777.2" r="6.21" fill="#39ffbe"/>
<circle cx="708.8" cy="598.7" r="6.21" fill="#0018ff"/>
<circle cx="298.7" cy="955.6" r="6.21" fill="#ff2d00"/>
<circle cx="329.3" cy="921.0" r="6.21" fill="#a80000"/>
<circle cx="525.2" cy="791.2" r="6.21" fill="#0078ff"/>
<circle cx="405.4" cy="880.1" r="6.21" fill="#60ff97"/>
<circle cx="539.3" cy="810.4" r="6.21" fill="#00008d"/>
<circle cx="536.2" cy="787.2" r="6.21" fill="#0038ff"/>
<circle cx="311.8" cy="931.6" r="6.21" fill="#ff1e00"/>
<circle cx="503.6" cy="766.6" r="6.21" fill="#3cffba"/>
<circle cx="611.8" cy="709.5" r="6.21" fill="#0054ff"/>
<circle cx="841.6" cy="470.7" r="6.21" fill="#0000b6"/>
<circle cx="467.8" cy="782.5" r="6.21" fill="#0030ff"/>
<circle cx="727.0" cy="570.8" r="6.21" fill="#0000df"/>
<circle cx="312.5" cy="934.5" r="6.21" fill="#9b0000"/>
<circle cx="306.4" cy="938.6" r="6.21" fill="#b20000"/>
<circle cx="744.7" cy="578.6" r="6.21" fill="#0034ff"/>
<circle cx="337.5" cy="912.1" r="6.21" fill="#e40000"/>
<circle cx="538.2" cy="786.9" r="6.21" fill="#0028ff"/>
<circle cx="373.1" cy="882.4" r="6.21" fill="#ff4e00"/>
<circle cx="462.1" cy="752.9" r="6.21" fill="#000089"/>
<circle cx="302.4" cy="948.0" r="6.21" fill="#920000"/>
<circle cx="384.9" cy="885.7" r="6.21" fill="#ff9c00"/>
<circle cx="781.4" cy="567.1" r="6.21" fill="#0000d6"/>
<circle cx="341.1" cy="909.3" r="6.21" fill="#e80000"/>
<circle cx="841.4" cy="497.4" r="6.21" fill="#0000da"/>
<circle cx="446.2" cy="842.5" r="6.21" fill="#a7ff50"/>
<circle cx="346.5" cy="907.4" r="6.21" fill="#cd0000"/>
<circle cx="452.9" cy="814.2" r="6.21" fill="#beff39"/>
<circle cx="605.1" cy="675.7" r="6.21" fill="#005cff"/>
<circle cx="350.8" cy="904.7" r="6.21" fill="#d60000"/>
<circle cx="630.2" cy="666.2" r="6.21" fill="#0064ff"/>
<circle cx="375.8" cy="861.2" r="6.21" fill="#0044ff"/>
<circle cx="839.3" cy="472.6" r="6.21" fill="#0000bb"/>
<circle cx="586.4" cy="745.0" r="6.21" fill="#0000ff"/>
<circle cx="530.3" cy="774.7" r="6.21" fill="#39ffbe"/>
<circle cx="394.9" cy="874.2" r="6.21" fill="#ff8d00"/>
<circle cx="415.5" cy="841.3" r="6.21" fill="#adff49"/>
<circle cx="211.4" cy="1014.5" r="6.21" fill="#29ffce"/>
<circle cx="481.1" cy="780.9" r="6.21" fill="#06ecf1"/>
<circle cx="612.5" cy="671.2" r="6.21" fill="#005cff"/>
<circle cx="255.9" cy="973.0" r="6.21" fill="#83ff73"/>
<circle cx="597.0" cy="686.6" r="6.21" fill="#0084ff"/>
<circle cx="375.1" cy="894.0" r="6.21" fill="#ff8d00"/>
<circle cx="443.4" cy="820.0" r="6.21" fill="#aaff4d"/>
<circle cx="780.5" cy="544.5" r="6.21" fill="#0018ff"/>
<circle cx="274.1" cy="959.3" r="6.21" fill="#f4f802"/>
<circle cx="304.0" cy="946.5" r="6.21" fill="#8d0000"/>
<circle cx="431.3" cy="869.1" r="6.21" fill="#0078ff"/>
<circle cx="371.5" cy="877.6" r="6.21" fill="#eeff09"/>
<circle cx="398.8" cy="877.4" r="6.21" fill="#ffe200"/>
<circle cx="593.3" cy="716.9" r="6.21" fill="#00ccff"/>
<circle cx="466.8" cy="780.1" r="6.21" fill="#000cff"/>
<circle cx="303.6" cy="946.3" r="6.21" fill="#890000"/>
<circle cx="266.7" cy="988.3" r="6.21" fill="#8dff6a"/>
<circle cx="674.8" cy="655.1" r="6.21" fill="#0010ff"/>
<circle cx="792.4" cy="532.3" r="6.21" fill="#0004ff"/>
<circle cx="405.2" cy="865.8" r="6.21" fill="#ffa700"/>
<circle cx="334.3" cy="912.4" r="6.21" fill="#ff3b00"/>
<circle cx="372.3" cy="880.4" r="6.21" fill="#ff8900"/>
<circle cx="534.8" cy="766.7" r="6.21" fill="#60ff97"/>
<circle cx="536.9" cy="762.9" r="6.21" fill="#6aff8d"/>
<circle cx="391.0" cy="862.8" r="6.21" fill="#f8f500"/>
<circle cx="653.6" cy="640.6" r="6.21" fill="#0020ff"/>
<circle cx="356.8" cy="917.2" r="6.21" fill="#a0ff56"/>
<circle cx="421.3" cy="878.2" r="6.21" fill="#0060ff"/>
<circle cx="644.6" cy="676.4" r="6.21" fill="#0044ff"/>
<circle cx="434.0" cy="858.3" r="6.21" fill="#46ffb1"/>
<circle cx="807.6" cy="519.6" r="6.21" fill="#0000ff"/>
<circle cx="457.5" cy="816.3" r="6.21" fill="#ebff0c"/>
<circle cx="514.1" cy="778.6" r="6.21" fill="#94ff63"/>
<circle cx="393.1" cy="860.4" r="6.21" fill="#e1ff16"/>
<circle cx="229.5" cy="1001.5" r="6.21" fill="#c7ff30"/>
<circle cx="354.7" cy="895.4" r="6.21" fill="#ff5900"/>
<circle cx="242.4" cy="987.7" r="6.21" fill="#c7ff30"/>
<circle cx="226.4" cy="1007.2" r="6.21" fill="#d7ff1f"/>
<circle cx="471.3" cy="824.1" r="6.21" fill="#7dff7a"/>
<circle cx="491.7" cy="807.1" r="6.21" fill="#6aff8d"/>
<circle cx="319.4" cy="914.1" r="6.21" fill="#09f0ee"/>
<circle cx="395.1" cy="850.6" r="6.21" fill="#00ccff"/>
<circle cx="618.4" cy="676.2" r="6.21" fill="#0078ff"/>
<circle cx="331.9" cy="909.6" r="6.21" fill="#e7ff0f"/>
<circle cx="628.5" cy="702.5" r="6.21" fill="#0000ff"/>
<circle cx="261.0" cy="985.1" r="6.21" fill="#ff6400"/>
<circle cx="241.5" cy="989.0" r="6.21" fill="#d1ff26"/>
<circle cx="473.6" cy="793.8" r="6.21" fill="#73ff83"/>
<circle cx="480.5" cy="798.3" r="6.21" fill="#c4ff33"/>
<circle cx="215.4" cy="1023.1" r="6.21" fill="#50ffa7"/>
<circle cx="352.1" cy="910.7" r="6.21" fill="#ff3b00"/>
<circle cx="780.9" cy="633.2" r="6.21" fill="#000084"/>
<circle cx="434.3" cy="826.4" r="6.21" fill="#9dff5a"/>
<circle cx="235.4" cy="1020.6" r="6.21" fill="#003cff"/>
<circle cx="444.4" cy="853.7" r="6.21" fill="#00e0fb"/>
<circle cx="696.0" cy="661.1" r="6.21" fill="#0000ad"/>
<circle cx="259.5" cy="990.0" r="6.21" fill="#ffea00"/>
<circle cx="287.8" cy="938.1" r="6.21" fill="#0080ff"/>
<circle cx="420.7" cy="857.2" r="6.21" fill="#ffea00"/>
<circle cx="374.6" cy="903.8" r="6.21" fill="#83ff73"/>
<circle cx="310.8" cy="938.9" r="6.21" fill="#800000"/>
<circle cx="266.4" cy="965.0" r="6.21" fill="#c1ff36"/>
<circle cx="568.7" cy="734.3" r="6.21" fill="#2cffca"/>
<circle cx="494.3" cy="762.5" r="6.21" fill="#005cff"/>
<circle cx="764.4" cy="567.2" r="6.21" fill="#0020ff"/>
<circle cx="547.2" cy="726.3" r="6.21" fill="#00d4ff"/>
<circle cx="454.0" cy="796.8" r="6.21" fill="#0058ff"/>
<circle cx="335.0" cy="934.2" r="6.21" fill="#b1ff46"/>
<circle cx="351.6" cy="878.6" r="6.21" fill="#0010ff"/>
<circle cx="524.4" cy="761.8" r="6.21" fill="#63ff94"/>
<circle cx="229.7" cy="1014.2" r="6.21" fill="#6dff8a"/>
<circle cx="686.0" cy="687.0" r="6.21" fill="#000092"/>
<circle cx="561.1" cy="763.8" r="6.21" fill="#0038ff"/>
<circle cx="258.6" cy="944.6" r="6.21" fill="#000092"/>
<circle cx="357.4" cy="911.9" r="6.21" fill="#ffc100"/>
<circle cx="283.6" cy="963.9" r="6.21" fill="#b60000"/>
<circle cx="361.9" cy="875.0" r="6.21" fill="#0078ff"/>
<circle cx="731.6" cy="585.8" r="6.21" fill="#0038ff"/>
<circle cx="302.2" cy="943.4" r="6.21" fill="#960000"/>
<circle cx="617.1" cy="686.3" r="6.21" fill="#009cff"/>
<circle cx="676.2" cy="634.9" r="6.21" fill="#005cff"/>
<circle cx="728.9" cy="621.0" r="6.21" fill="#0000bb"/>
<circle cx="657.1" cy="652.2" r="6.21" fill="#006cff"/>
<circle cx="349.1" cy="905.3" r="6.21" fill="#d10000"/>
<circle cx="512.1" cy="772.4" r="6.21" fill="#83ff73"/>
<circle cx="592.8" cy="707.3" r="6.21" fill="#00c4ff"/>
<circle cx="275.6" cy="979.1" r="6.21" fill="#e4ff13"/>
<circle cx="481.4" cy="801.2" r="6.21" fill="#c7ff30"/>
<circle cx="428.8" cy="847.1" r="6.21" fill="#ffde00"/>
<circle cx="400.4" cy="868.7" r="6.21" fill="#ff9400"/>
<circle cx="248.2" cy="998.5" r="6.21" fill="#e4ff13"/>
<circle cx="726.0" cy="584.8" r="6.21" fill="#0018ff"/>
<circle cx="578.1" cy="723.5" r="6.21" fill="#0ff8e7"/>
<circle cx="604.9" cy="711.7" r="6.21" fill="#008cff"/>
<circle cx="348.6" cy="906.6" r="6.21" fill="#cd0000"/>
<circle cx="661.4" cy="647.5" r="6.21" fill="#0068ff"/>
<circle cx="301.1" cy="939.9" r="6.21" fill="#ff3800"/>
<circle cx="204.7" cy="1020.1" r="6.21" fill="#00e4f8"/>
<circle cx="483.6" cy="739.6" r="6.21" fill="#000092"/>
<circle cx="567.7" cy="707.9" r="6.21" fill="#00a4ff"/>
<circle cx="407.9" cy="880.4" r="6.21" fill="#29ffce"/>
<circle cx="341.2" cy="928.1" r="6.21" fill="#d7ff1f"/>
<circle cx="492.1" cy="783.6" r="6.21" fill="#90ff66"/>
<circle cx="528.5" cy="741.7" r="6.21" fill="#02e8f4"/>
<circle cx="379.6" cy="908.2" r="6.21" fill="#0084ff"/>
<circle cx="400.3" cy="864.8" r="6.21" fill="#ff8200"/>
<circle cx="347.1" cy="907.1" r="6.21" fill="#cd0000"/>
<circle cx="532.2" cy="753.2" r="6.21" fill="#46ffb1"/>
<circle cx="390.8" cy="868.5" r="6.21" fill="#ff7a00"/>
<circle cx="311.8" cy="907.1" r="6.21" fill="#0000d6"/>
<circle cx="232.6" cy="1006.7" r="6.21" fill="#f1fc06"/>
<circle cx="547.6" cy="749.1" r="6.21" fill="#53ffa4"/>
<circle cx="445.1" cy="836.7" r="6.21" fill="#e4ff13"/>
<circle cx="547.4" cy="699.5" r="6.21" fill="#0000c4"/>
<circle cx="387.7" cy="864.3" r="6.21" fill="#d7ff1f"/>
<circle cx="468.9" cy="813.5" r="6.21" fill="#d4ff23"/>
<circle cx="238.4" cy="993.6" r="6.21" fill="#f8f500"/>
<circle cx="735.4" cy="539.6" r="6.21" fill="#00009f"/>
<circle cx="740.7" cy="624.3" r="6.21" fill="#0000a8"/>
<circle cx="620.0" cy="708.3" r="6.21" fill="#0008ff"/>
<circle cx="195.1" cy="1039.7" r="6.21" fill="#00a4ff"/>
<circle cx="351.5" cy="932.1" r="6.21" fill="#004cff"/>
<circle cx="749.2" cy="558.8" r="6.21" fill="#0000f1"/>
<circle cx="880.0" cy="489.3" r="6.21" fill="#000096"/>
<circle cx="342.8" cy="914.8" r="6.21" fill="#d10000"/>
<circle cx="328.6" cy="939.3" r="6.21" fill="#b4ff43"/>
<circle cx="429.3" cy="828.3" r="6.21" fill="#70ff87"/>
<circle cx="282.6" cy="971.6" r="6.21" fill="#ffae00"/>
<circle cx="413.5" cy="853.9" r="6.21" fill="#ffa700"/>
<circle cx="286.9" cy="962.2" r="6.21" fill="#c40000"/>
<circle cx="505.8" cy="794.4" r="6.21" fill="#66ff90"/>
<circle cx="544.2" cy="765.4" r="6.21" fill="#00e4f8"/>
<circle cx="501.6" cy="811.7" r="6.21" fill="#0080ff"/>
<circle cx="556.9" cy="728.6" r="6.21" fill="#09f0ee"/>
<circle cx="327.5" cy="918.4" r="6.21" fill="#ff2900"/>
<circle cx="297.6" cy="940.3" r="6.21" fill="#ffae00"/>
<circle cx="253.8" cy="963.7" r="6.21" fill="#000cff"/>
<circle cx="458.1" cy="795.7" r="6.21" fill="#0084ff"/>
<circle cx="349.8" cy="915.8" r="6.21" fill="#ff7e00"/>
<circle cx="638.5" cy="703.9" r="6.21" fill="#0000bf"/>
<circle cx="256.2" cy="988.1" r="6.21" fill="#ff6800"/>
<circle cx="279.1" cy="970.2" r="6.21" fill="#ff1e00"/>
<circle cx="459.1" cy="833.7" r="6.21" fill="#8aff6d"/>
<circle cx="779.9" cy="558.2" r="6.21" fill="#000cff"/>
<circle cx="229.1" cy="1011.3" r="6.21" fill="#baff3c"/>
<circle cx="833.0" cy="505.7" r="6.21" fill="#0000e8"/>
<circle cx="487.3" cy="771.5" r="6.21" fill="#0094ff"/>
<circle cx="366.4" cy="903.5" r="6.21" fill="#ffb200"/>
<circle cx="621.6" cy="672.7" r="6.21" fill="#006cff"/>
<circle cx="511.8" cy="745.4" r="6.21" fill="#003cff"/>
<circle cx="582.2" cy="734.8" r="6.21" fill="#0084ff"/>
<circle cx="811.4" cy="496.1" r="6.21" fill="#0000cd"/>
<circle cx="523.1" cy="764.9" r="6.21" fill="#70ff87"/>
<circle cx="414.9" cy="872.8" r="6.21" fill="#5aff9d"/>
<circle cx="292.4" cy="956.0" r="6.21" fill="#960000"/>
<circle cx="717.4" cy="668.9" r="6.21" fill="#000089"/>
<circle cx="573.1" cy="693.2" r="6.21" fill="#001cff"/>
<circle cx="603.5" cy="687.5" r="6.21" fill="#0090ff"/>
<circle cx="233.6" cy="994.5" r="6.21" fill="#87ff70"/>
<circle cx="379.9" cy="880.4" r="6.21" fill="#ff4700"/>
<circle cx="304.6" cy="957.1" r="6.21" fill="#deff19"/>
<circle cx="351.3" cy="902.7" r="6.21" fill="#df0000"/>
<circle cx="419.6" cy="859.1" r="6.21" fill="#f8f500"/>
<circle cx="221.3" cy="1029.2" r="6.21" fill="#0054ff"/>
<circle cx="570.7" cy="714.9" r="6.21" fill="#00d4ff"/>
<circle cx="477.2" cy="808.0" r="6.21" fill="#c7ff30"/>
<circle cx="236.4" cy="995.6" r="6.21" fill="#f1fc06"/>
<circle cx="296.2" cy="941.4" r="6.21" fill="#ffb200"/>
<circle cx="349.6" cy="888.8" r="6.21" fill="#09f0ee"/>
<circle cx="287.1" cy="981.3" r="6.21" fill="#0058ff"/>
<circle cx="372.6" cy="891.8" r="6.21" fill="#ff4e00"/>
<circle cx="566.5" cy="731.2" r="6.21" fill="#23ffd4"/>
<circle cx="539.3" cy="732.2" r="6.21" fill="#00d4ff"/>
<circle cx="224.5" cy="1007.5" r="6.21" fill="#beff39"/>
<circle cx="530.4" cy="762.9" r="6.21" fill="#73ff83"/>
<circle cx="509.8" cy="779.6" r="6.21" fill="#97ff60"/>
<circle cx="558.2" cy="752.2" r="6.21" fill="#00e0fb"/>
<circle cx="476.2" cy="816.9" r="6.21" fill="#9aff5d"/>
<circle cx="350.3" cy="901.7" r="6.21" fill="#ff1300"/>
<circle cx="268.2" cy="974.8" r="6.21" fill="#df0000"/>
<circle cx="474.9" cy="794.2" r="6.21" fill="#87ff70"/>
<circle cx="682.3" cy="680.0" r="6.21" fill="#0000ad"/>
<circle cx="435.5" cy="868.7" r="6.21" fill="#0044ff"/>
<circle cx="264.1" cy="1006.4" r="6.21" fill="#0000bf"/>
<circle cx="273.4" cy="974.8" r="6.21" fill="#ff2d00"/>
<circle cx="498.2" cy="779.5" r="6.21" fill="#8aff6d"/>
<circle cx="706.1" cy="641.4" r="6.21" fill="#0000b6"/>
<circle cx="713.5" cy="585.0" r="6.21" fill="#0000f1"/>
<circle cx="514.5" cy="777.0" r="6.21" fill="#90ff66"/>
<circle cx="542.7" cy="741.9" r="6.21" fill="#26ffd1"/>
<circle cx="469.5" cy="791.3" r="6.21" fill="#13fce4"/>
<circle cx="551.4" cy="750.4" r="6.21" fill="#50ffa7"/>
<circle cx="344.1" cy="915.7" r="6.21" fill="#fa0f00"/>
<circle cx="240.3" cy="1007.6" r="6.21" fill="#6dff8a"/>
<circle cx="427.9" cy="856.7" r="6.21" fill="#baff3c"/>
<circle cx="500.1" cy="756.8" r="6.21" fill="#0050ff"/>
<circle cx="344.0" cy="879.6" r="6.21" fill="#0000da"/>
<circle cx="598.2" cy="708.7" r="6.21" fill="#00c4ff"/>
<circle cx="515.9" cy="751.0" r="6.21" fill="#00d8ff"/>
<circle cx="776.1" cy="541.6" r="6.21" fill="#0000ff"/>
<circle cx="398.0" cy="896.2" r="6.21" fill="#0058ff"/>
<circle cx="326.0" cy="939.8" r="6.21" fill="#e7ff0f"/>
<circle cx="337.7" cy="922.2" r="6.21" fill="#ff1a00"/>
<circle cx="237.1" cy="985.8" r="6.21" fill="#00bcff"/>
<circle cx="359.7" cy="894.6" r="6.21" fill="#ff1e00"/>
<circle cx="411.9" cy="876.1" r="6.21" fill="#43ffb4"/>
<circle cx="646.9" cy="679.9" r="6.21" fill="#0024ff"/>
<circle cx="518.6" cy="763.6" r="6.21" fill="#63ff94"/>
<circle cx="246.3" cy="983.9" r="6.21" fill="#c4ff33"/>
<circle cx="524.5" cy="725.1" r="6.21" fill="#0000ff"/>
<circle cx="422.1" cy="844.6" r="6.21" fill="#ffbd00"/>
<circle cx="423.9" cy="817.7" r="6.21" fill="#0010ff"/>
<circle cx="230.1" cy="1004.1" r="6.21" fill="#f1fc06"/>
<circle cx="306.8" cy="962.2" r="6.21" fill="#00e0fb"/>
<circle cx="311.3" cy="939.8" r="6.21" fill="#890000"/>
<circle cx="642.5" cy="687.1" r="6.21" fill="#0004ff"/>
<circle cx="583.8" cy="696.4" r="6.21" fill="#0098ff"/>
<circle cx="794.0" cy="545.3" r="6.21" fill="#0008ff"/>
<circle cx="234.9" cy="976.3" r="6.21" fill="#0000d1"/>
<circle cx="422.7" cy="813.4" r="6.21" fill="#0000e3"/>
<circle cx="313.5" cy="933.7" r="6.21" fill="#9b0000"/>
<circle cx="329.6" cy="913.1" r="6.21" fill="#ffbd00"/>
<circle cx="257.6" cy="973.9" r="6.21" fill="#e1ff16"/>
<circle cx="369.1" cy="901.0" r="6.21" fill="#ffae00"/>
<circle cx="381.7" cy="881.7" r="6.21" fill="#ff5200"/>
<circle cx="822.0" cy="497.9" r="6.21" fill="#0000d1"/>
<circle cx="501.1" cy="789.1" r="6.21" fill="#a4ff53"/>
<circle cx="488.7" cy="783.4" r="6.21" fill="#7aff7d"/>
<circle cx="222.9" cy="1001.5" r="6.21" fill="#1cffdb"/>
<circle cx="252.2" cy="989.1" r="6.21" fill="#ff5900"/>
<circle cx="355.7" cy="897.7" r="6.21" fill="#ff1600"/>
<circle cx="483.9" cy="790.6" r="6.21" fill="#a0ff56"/>
<circle cx="748.3" cy="555.9" r="6.21" fill="#0000e3"/>
<circle cx="576.1" cy="724.4" r="6.21" fill="#13fce4"/>
<circle cx="741.0" cy="577.3" r="6.21" fill="#0034ff"/>
<circle cx="638.1" cy="687.1" r="6.21" fill="#0030ff"/>
<circle cx="274.5" cy="984.9" r="6.21" fill="#40ffb7"/>
<circle cx="536.8" cy="721.9" r="6.21" fill="#0020ff"/>
<circle cx="247.1" cy="982.1" r="6.21" fill="#a0ff56"/>
<circle cx="640.7" cy="638.8" r="6.21" fill="#0000ff"/>
<circle cx="650.4" cy="654.2" r="6.21" fill="#006cff"/>
<circle cx="545.6" cy="707.9" r="6.21" fill="#0000fa"/>
<circle cx="530.0" cy="749.2" r="6.21" fill="#39ffbe"/>
<circle cx="645.4" cy="665.7" r="6.21" fill="#006cff"/>
<circle cx="414.6" cy="863.3" r="6.21" fill="#feed00"/>
<circle cx="315.3" cy="900.3" r="6.21" fill="#0000b6"/>
<circle cx="509.5" cy="818.6" r="6.21" fill="#0000e8"/>
<circle cx="673.7" cy="596.0" r="6.21" fill="#0000ad"/>
<circle cx="531.7" cy="715.3" r="6.21" fill="#0000da"/>
<circle cx="456.2" cy="816.4" r="6.21" fill="#e7ff0f"/>
<circle cx="658.7" cy="646.4" r="6.21" fill="#0060ff"/>
<circle cx="401.8" cy="888.3" r="6.21" fill="#00c8ff"/>
<circle cx="371.1" cy="875.2" r="6.21" fill="#8dff6a"/>
<circle cx="330.9" cy="911.4" r="6.21" fill="#ffd700"/>
<circle cx="499.3" cy="764.6" r="6.21" fill="#00d8ff"/>
<circle cx="631.7" cy="719.4" r="6.21" fill="#0000bb"/>
<circle cx="357.9" cy="903.6" r="6.21" fill="#ff2200"/>
<circle cx="244.2" cy="1003.3" r="6.21" fill="#a4ff53"/>
<circle cx="256.7" cy="963.5" r="6.21" fill="#0040ff"/>
<circle cx="430.2" cy="859.3" r="6.21" fill="#6dff8a"/>
<circle cx="571.0" cy="745.8" r="6.21" fill="#007cff"/>
<circle cx="303.1" cy="958.9" r="6.21" fill="#c7ff30"/>
<circle cx="263.1" cy="973.6" r="6.21" fill="#ff5200"/>
<circle cx="351.1" cy="908.3" r="6.21" fill="#f10800"/>
<circle cx="377.9" cy="877.5" r="6.21" fill="#ff6c00"/>
<circle cx="628.2" cy="642.7" r="6.21" fill="#0000d6"/>
<circle cx="343.7" cy="915.7" r="6.21" fill="#f10800"/>
<circle cx="294.9" cy="960.8" r="6.21" fill="#ff7a00"/>
<circle cx="296.9" cy="943.7" r="6.21" fill="#ff3400"/>
<circle cx="455.7" cy="792.9" r="6.21" fill="#0030ff"/>
<circle cx="527.9" cy="760.4" r="6.21" fill="#63ff94"/>
<circle cx="486.3" cy="810.9" r="6.21" fill="#7aff7d"/>
<circle cx="394.5" cy="888.9" r="6.21" fill="#60ff97"/>
<circle cx="872.5" cy="500.6" r="6.21" fill="#000092"/>
<circle cx="615.9" cy="674.5" r="6.21" fill="#006cff"/>
<circle cx="490.4" cy="800.5" r="6.21" fill="#adff49"/>
<circle cx="526.1" cy="762.3" r="6.21" fill="#6aff8d"/>
<circle cx="410.4" cy="864.4" r="6.21" fill="#ffcc00"/>
<circle cx="448.0" cy="824.0" r="6.21" fill="#fbf100"/>
<circle cx="330.5" cy="926.4" r="6.21" fill="#cd0000"/>
<circle cx="276.7" cy="964.2" r="6.21" fill="#d60000"/>
<circle cx="458.4" cy="821.3" r="6.21" fill="#e7ff0f"/>
<circle cx="817.4" cy="545.0" r="6.21" fill="#0000ad"/>
<circle cx="361.4" cy="912.7" r="6.21" fill="#b7ff40"/>
<circle cx="610.5" cy="703.6" r="6.21" fill="#0094ff"/>
<circle cx="511.1" cy="770.6" r="6.21" fill="#7aff7d"/>
<circle cx="508.4" cy="823.0" r="6.21" fill="#0000cd"/>
<circle cx="474.5" cy="800.9" r="6.21" fill="#c7ff30"/>
<circle cx="304.2" cy="944.1" r="6.21" fill="#800000"/>
<circle cx="369.7" cy="903.2" r="6.21" fill="#feed00"/>
<circle cx="435.2" cy="854.6" r="6.21" fill="#7aff7d"/>
<circle cx="652.5" cy="668.8" r="6.21" fill="#003cff"/>
<circle cx="427.6" cy="860.7" r="6.21" fill="#7dff7a"/>
<circle cx="304.6" cy="941.6" r="6.21" fill="#8d0000"/>
<circle cx="827.3" cy="487.4" r="6.21" fill="#0000cd"/>
<circle cx="753.1" cy="600.8" r="6.21" fill="#0000b6"/>
<circle cx="344.5" cy="899.9" r="6.21" fill="#ffe600"/>
<circle cx="447.4" cy="829.8" r="6.21" fill="#f8f500"/>
<circle cx="317.7" cy="936.0" r="6.21" fill="#a80000"/>
<circle cx="305.5" cy="949.8" r="6.21" fill="#ff2200"/>
<circle cx="442.1" cy="840.2" r="6.21" fill="#deff19"/>
<circle cx="570.0" cy="719.4" r="6.21" fill="#00d8ff"/>
<circle cx="289.3" cy="968.4" r="6.21" fill="#f1fc06"/>
<circle cx="418.4" cy="836.8" r="6.21" fill="#70ff87"/>
<circle cx="435.0" cy="867.2" r="6.21" fill="#0068ff"/>
<circle cx="566.0" cy="702.8" r="6.21" fill="#0050ff"/>
<circle cx="464.1" cy="823.2" r="6.21" fill="#c1ff36"/>
<circle cx="687.7" cy="624.5" r="6.21" fill="#0054ff"/>
<circle cx="759.2" cy="569.9" r="6.21" fill="#0028ff"/>
<circle cx="268.4" cy="979.5" r="6.21" fill="#ff5200"/>
<circle cx="409.3" cy="841.8" r="6.21" fill="#33ffc4"/>
<circle cx="372.2" cy="871.3" r="6.21" fill="#26ffd1"/>
<circle cx="392.5" cy="864.5" r="6.21" fill="#ffa700"/>
<circle cx="288.4" cy="965.9" r="6.21" fill="#ff7a00"/>
<circle cx="391.8" cy="870.6" r="6.21" fill="#ff6c00"/>
<circle cx="274.0" cy="975.7" r="6.21" fill="#ff5500"/>
<circle cx="412.2" cy="837.8" r="6.21" fill="#06ecf1"/>
<circle cx="461.0" cy="840.7" r="6.21" fill="#00d8ff"/>
<circle cx="408.6" cy="863.9" r="6.21" fill="#ffb600"/>
<circle cx="380.9" cy="887.8" r="6.21" fill="#ff8200"/>
<circle cx="409.5" cy="860.8" r="6.21" fill="#ffa700"/>
<circle cx="543.2" cy="764.3" r="6.21" fill="#1cffdb"/>
<circle cx="360.5" cy="894.7" r="6.21" fill="#ff1600"/>
<circle cx="321.2" cy="925.9" r="6.21" fill="#c40000"/>
<circle cx="407.5" cy="873.0" r="6.21" fill="#d1ff26"/>
<circle cx="346.7" cy="902.7" r="6.21" fill="#ff3b00"/>
<circle cx="733.4" cy="585.1" r="6.21" fill="#003cff"/>
<circle cx="702.8" cy="593.0" r="6.21" fill="#0000f1"/>
<circle cx="325.4" cy="905.3" r="6.21" fill="#0070ff"/>
<circle cx="568.2" cy="717.5" r="6.21" fill="#00d8ff"/>
<circle cx="357.5" cy="882.9" r="6.21" fill="#1cffdb"/>
<circle cx="496.9" cy="782.9" r="6.21" fill="#9aff5d"/>
<circle cx="219.4" cy="1011.1" r="6.21" fill="#94ff63"/>
<circle cx="681.4" cy="645.7" r="6.21" fill="#0018ff"/>
<circle cx="363.7" cy="909.1" r="6.21" fill="#e7ff0f"/>
<circle cx="317.4" cy="952.1" r="6.21" fill="#33ffc4"/>
<circle cx="400.1" cy="861.2" r="6.21" fill="#ff9100"/>
<circle cx="325.2" cy="932.1" r="6.21" fill="#e80000"/>
<circle cx="620.8" cy="712.4" r="6.21" fill="#0000f1"/>
<circle cx="762.7" cy="561.6" r="6.21" fill="#002cff"/>
<circle cx="360.8" cy="912.6" r="6.21" fill="#caff2c"/>
<circle cx="654.1" cy="626.4" r="6.21" fill="#0000f1"/>
<circle cx="456.6" cy="841.7" r="6.21" fill="#23ffd4"/>
<circle cx="591.5" cy="685.7" r="6.21" fill="#0068ff"/>
<circle cx="365.1" cy="893.4" r="6.21" fill="#ff1a00"/>
<circle cx="565.0" cy="777.0" r="6.21" fill="#0000bf"/>
<circle cx="292.9" cy="953.4" r="6.21" fill="#890000"/>
<circle cx="359.6" cy="919.0" r="6.21" fill="#29ffce"/>
<circle cx="257.2" cy="985.2" r="6.21" fill="#ff3b00"/>
<circle cx="359.9" cy="897.0" r="6.21" fill="#f60b00"/>
<circle cx="535.1" cy="772.8" r="6.21" fill="#0ff8e7"/>
<circle cx="468.4" cy="820.3" r="6.21" fill="#baff3c"/>
<circle cx="485.6" cy="775.0" r="6.21" fill="#00c0ff"/>
<circle cx="553.4" cy="749.3" r="6.21" fill="#49ffad"/>
<circle cx="350.1" cy="911.4" r="6.21" fill="#ff2500"/>
<circle cx="462.7" cy="796.0" r="6.21" fill="#00e0fb"/>
<circle cx="714.1" cy="594.2" r="6.21" fill="#0018ff"/>
<circle cx="472.2" cy="839.8" r="6.21" fill="#0048ff"/>
<circle cx="481.8" cy="798.3" r="6.21" fill="#c4ff33"/>
<circle cx="307.1" cy="947.5" r="6.21" fill="#ed0400"/>
<circle cx="286.6" cy="947.9" r="6.21" fill="#e7ff0f"/>
<circle cx="439.2" cy="839.2" r="6.21" fill="#f8f500"/>
<circle cx="502.5" cy="799.9" r="6.21" fill="#43ffb4"/>
<circle cx="506.7" cy="809.6" r="6.21" fill="#0060ff"/>
<circle cx="533.5" cy="785.6" r="6.21" fill="#0060ff"/>
<circle cx="750.9" cy="600.3" r="6.21" fill="#0000bf"/>
<circle cx="377.4" cy="902.5" r="6.21" fill="#66ff90"/>
<circle cx="650.2" cy="726.6" r="6.21" fill="#000096"/>
<circle cx="812.2" cy="528.4" r="6.21" fill="#0000ff"/>
<circle cx="505.6" cy="782.3" r="6.21" fill="#9dff5a"/>
<circle cx="241.9" cy="1004.6" r="6.21" fill="#aaff4d"/>
<circle cx="241.2" cy="987.6" r="6.21" fill="#a0ff56"/>
<circle cx="723.1" cy="597.6" r="6.21" fill="#003cff"/>
<circle cx="428.6" cy="863.5" r="6.21" fill="#33ffc4"/>
<circle cx="464.6" cy="829.8" r="6.21" fill="#7dff7a"/>
<circle cx="300.4" cy="946.0" r="6.21" fill="#840000"/>
<circle cx="315.4" cy="924.6" r="6.21" fill="#ffcc00"/>
<circle cx="319.1" cy="936.0" r="6.21" fill="#bf0000"/>
<circle cx="666.1" cy="661.7" r="6.21" fill="#001cff"/>
<circle cx="512.9" cy="749.8" r="6.21" fill="#0094ff"/>
<circle cx="633.4" cy="678.7" r="6.21" fill="#006cff"/>
<circle cx="569.9" cy="708.9" r="6.21" fill="#00bcff"/>
<circle cx="414.1" cy="855.1" r="6.21" fill="#ffab00"/>
<circle cx="558.6" cy="695.3" r="6.21" fill="#0000e8"/>
<circle cx="261.5" cy="978.3" r="6.21" fill="#ff1e00"/>
<circle cx="307.4" cy="960.9" r="6.21" fill="#16ffe1"/>
<circle cx="219.7" cy="1014.3" r="6.21" fill="#a7ff50"/>
<circle cx="485.0" cy="812.5" r="6.21" fill="#73ff83"/>
<circle cx="513.2" cy="754.8" r="6.21" fill="#0cf4eb"/>
<circle cx="696.6" cy="631.0" r="6.21" fill="#0014ff"/>
<circle cx="325.8" cy="913.7" r="6.21" fill="#c4ff33"/>
<circle cx="356.1" cy="919.8" r="6.21" fill="#63ff94"/>
<circle cx="452.0" cy="818.3" r="6.21" fill="#e4ff13"/>
<circle cx="319.8" cy="959.3" r="6.21" fill="#000cff"/>
<circle cx="546.9" cy="713.2" r="6.21" fill="#001cff"/>
<circle cx="767.3" cy="560.1" r="6.21" fill="#0028ff"/>
<circle cx="478.5" cy="796.2" r="6.21" fill="#b7ff40"/>
<circle cx="537.1" cy="754.5" r="6.21" fill="#5aff9d"/>
<circle cx="551.9" cy="708.1" r="6.21" fill="#0010ff"/>
<circle cx="373.5" cy="918.8" r="6.21" fill="#0010ff"/>
<circle cx="227.2" cy="1013.1" r="6.21" fill="#a7ff50"/>
<circle cx="490.7" cy="784.1" r="6.21" fill="#8dff6a"/>
<circle cx="522.1" cy="778.0" r="6.21" fill="#70ff87"/>
<circle cx="365.8" cy="872.5" r="6.21" fill="#008cff"/>
<circle cx="583.8" cy="719.1" r="6.21" fill="#06ecf1"/>
<circle cx="579.7" cy="720.0" r="6.21" fill="#06ecf1"/>
<circle cx="495.3" cy="805.3" r="6.21" fill="#53ffa4"/>
<circle cx="522.3" cy="748.0" r="6.21" fill="#13fce4"/>
<circle cx="260.3" cy="999.3" r="6.21" fill="#009cff"/>
<circle cx="254.1" cy="989.9" r="6.21" fill="#ff7700"/>
<circle cx="406.3" cy="871.5" r="6.21" fill="#f8f500"/>
<circle cx="615.3" cy="682.5" r="6.21" fill="#0090ff"/>
<circle cx="262.7" cy="984.4" r="6.21" fill="#ff7300"/>
<circle cx="356.0" cy="895.4" r="6.21" fill="#ff3f00"/>
<circle cx="305.8" cy="946.6" r="6.21" fill="#ad0000"/>
<circle cx="597.9" cy="718.2" r="6.21" fill="#0094ff"/>
<circle cx="397.2" cy="880.6" r="6.21" fill="#e7ff0f"/>
<circle cx="558.4" cy="739.6" r="6.21" fill="#3cffba"/>
<circle cx="493.1" cy="773.9" r="6.21" fill="#33ffc4"/>
<circle cx="309.9" cy="955.2" r="6.21" fill="#90ff66"/>
<circle cx="441.0" cy="794.0" r="6.21" fill="#0000c8"/>
<circle cx="559.3" cy="723.0" r="6.21" fill="#02e8f4"/>
<circle cx="552.1" cy="769.8" r="6.21" fill="#004cff"/>
<circle cx="482.7" cy="792.4" r="6.21" fill="#aaff4d"/>
<circle cx="287.9" cy="967.6" r="6.21" fill="#ffae00"/>
<circle cx="450.5" cy="817.5" r="6.21" fill="#d4ff23"/>
<circle cx="455.4" cy="824.4" r="6.21" fill="#e7ff0f"/>
<circle cx="707.4" cy="587.0" r="6.21" fill="#0000e8"/>
<circle cx="267.9" cy="972.8" r="6.21" fill="#e80000"/>
<circle cx="652.3" cy="652.0" r="6.21" fill="#0068ff"/>
<circle cx="449.8" cy="832.7" r="6.21" fill="#deff19"/>
<circle cx="386.4" cy="870.3" r="6.21" fill="#ff8900"/>
<circle cx="362.4" cy="865.8" r="6.21" fill="#0000ed"/>
<circle cx="370.1" cy="886.5" r="6.21" fill="#ff3400"/>
<circle cx="458.0" cy="849.6" r="6.21" fill="#0060ff"/>
<circle cx="230.6" cy="1012.1" r="6.21" fill="#97ff60"/>
<circle cx="291.6" cy="950.2" r="6.21" fill="#da0000"/>
<circle cx="369.7" cy="909.5" r="6.21" fill="#50ffa7"/>
<circle cx="520.2" cy="750.1" r="6.21" fill="#19ffde"/>
<circle cx="613.4" cy="671.0" r="6.21" fill="#005cff"/>
<circle cx="443.2" cy="833.5" r="6.21" fill="#feed00"/>
<circle cx="242.1" cy="987.9" r="6.21" fill="#c1ff36"/>
<circle cx="290.1" cy="970.2" r="6.21" fill="#9dff5a"/>
<circle cx="418.1" cy="835.9" r="6.21" fill="#50ffa7"/>
<circle cx="582.5" cy="726.7" r="6.21" fill="#02e8f4"/>
<circle cx="507.0" cy="797.0" r="6.21" fill="#30ffc7"/>
<circle cx="722.6" cy="634.0" r="6.21" fill="#0000ad"/>
<circle cx="369.3" cy="919.3" r="6.21" fill="#003cff"/>
<circle cx="499.1" cy="742.5" r="6.21" fill="#0000d6"/>
<circle cx="623.6" cy="686.9" r="6.21" fill="#0080ff"/>
<circle cx="805.9" cy="507.8" r="6.21" fill="#0000da"/>
<circle cx="297.9" cy="966.2" r="6.21" fill="#5dff9a"/>
<circle cx="251.0" cy="1003.9" r="6.21" fill="#02e8f4"/>
<circle cx="249.8" cy="993.4" r="6.21" fill="#ff9100"/>
<circle cx="313.9" cy="923.9" r="6.21" fill="#ceff29"/>
<circle cx="541.5" cy="775.7" r="6.21" fill="#0070ff"/>
<circle cx="307.9" cy="930.7" r="6.21" fill="#ffd300"/>
<circle cx="586.3" cy="724.5" r="6.21" fill="#00d4ff"/>
<circle cx="506.4" cy="750.2" r="6.21" fill="#0040ff"/>
<circle cx="543.0" cy="753.5" r="6.21" fill="#60ff97"/>
<circle cx="381.9" cy="874.5" r="6.21" fill="#ff7300"/>
<circle cx="389.0" cy="866.0" r="6.21" fill="#ffc100"/>
<circle cx="355.6" cy="898.4" r="6.21" fill="#f60b00"/>
<circle cx="529.8" cy="737.0" r="6.21" fill="#00a8ff"/>
<circle cx="389.8" cy="890.2" r="6.21" fill="#a0ff56"/>
<circle cx="562.8" cy="779.0" r="6.21" fill="#0000bf"/>
<circle cx="810.2" cy="532.2" r="6.21" fill="#0000ff"/>
<circle cx="793.1" cy="551.3" r="6.21" fill="#0000ff"/>
<circle cx="451.6" cy="808.7" r="6.21" fill="#46ffb1"/>
<circle cx="378.5" cy="892.4" r="6.21" fill="#ffa700"/>
<circle cx="442.2" cy="831.2" r="6.21" fill="#ffe200"/>
<circle cx="489.2" cy="809.3" r="6.21" fill="#6aff8d"/>
<circle cx="220.0" cy="1024.6" r="6.21" fill="#00dcfe"/>
<circle cx="354.6" cy="921.3" r="6.21" fill="#5dff9a"/>
<circle cx="609.7" cy="687.0" r="6.21" fill="#0094ff"/>
<circle cx="585.5" cy="702.0" r="6.21" fill="#00b4ff"/>
<circle cx="387.1" cy="869.2" r="6.21" fill="#ff9400"/>
<circle cx="520.7" cy="788.4" r="6.21" fill="#00d0ff"/>
<circle cx="517.3" cy="779.1" r="6.21" fill="#87ff70"/>
<circle cx="206.1" cy="1028.8" r="6.21" fill="#29ffce"/>
<circle cx="466.4" cy="829.2" r="6.21" fill="#6dff8a"/>
<circle cx="500.3" cy="798.1" r="6.21" fill="#77ff80"/>
<circle cx="318.8" cy="936.2" r="6.21" fill="#c40000"/>
<circle cx="751.5" cy="548.9" r="6.21" fill="#0000d6"/>
<circle cx="339.1" cy="936.3" r="6.21" fill="#0cf4eb"/>
<circle cx="528.8" cy="730.2" r="6.21" fill="#0034ff"/>
<circle cx="293.0" cy="954.2" r="6.21" fill="#890000"/>
<circle cx="775.3" cy="542.2" r="6.21" fill="#0000ff"/>
<circle cx="710.9" cy="617.0" r="6.21" fill="#0018ff"/>
<circle cx="516.7" cy="781.7" r="6.21" fill="#7dff7a"/>
<circle cx="639.8" cy="622.9" r="6.21" fill="#0000b2"/>
<circle cx="427.1" cy="866.3" r="6.21" fill="#13fce4"/>
<circle cx="406.1" cy="857.3" r="6.21" fill="#ff9800"/>
<circle cx="324.2" cy="922.3" r="6.21" fill="#e80000"/>
<circle cx="433.5" cy="820.2" r="6.21" fill="#00e4f8"/>
<circle cx="247.9" cy="988.4" r="6.21" fill="#ff7e00"/>
<circle cx="608.3" cy="698.0" r="6.21" fill="#00a8ff"/>
<circle cx="282.2" cy="970.6" r="6.21" fill="#ff7a00"/>
<circle cx="480.7" cy="807.0" r="6.21" fill="#beff39"/>
<circle cx="245.6" cy="985.5" r="6.21" fill="#e4ff13"/>
<circle cx="556.7" cy="736.3" r="6.21" fill="#23ffd4"/>
<circle cx="548.9" cy="755.3" r="6.21" fill="#46ffb1"/>
<circle cx="707.7" cy="567.9" r="6.21" fill="#0000ad"/>
<circle cx="607.5" cy="716.4" r="6.21" fill="#0030ff"/>
<circle cx="429.8" cy="832.6" r="6.21" fill="#dbff1c"/>
<circle cx="347.9" cy="918.7" r="6.21" fill="#ffa300"/>
<circle cx="478.3" cy="792.7" r="6.21" fill="#90ff66"/>
<circle cx="656.5" cy="654.0" r="6.21" fill="#006cff"/>
<circle cx="308.3" cy="949.4" r="6.21" fill="#ff6000"/>
<circle cx="242.9" cy="1003.5" r="6.21" fill="#b4ff43"/>
<circle cx="344.7" cy="931.3" r="6.21" fill="#1cffdb"/>
<circle cx="335.6" cy="943.8" r="6.21" fill="#005cff"/>
<circle cx="689.6" cy="631.3" r="6.21" fill="#0034ff"/>
<circle cx="531.8" cy="695.3" r="6.21" fill="#00008d"/>
<circle cx="287.6" cy="952.8" r="6.21" fill="#fa0f00"/>
<circle cx="679.4" cy="638.7" r="6.21" fill="#0040ff"/>
<circle cx="307.0" cy="936.0" r="6.21" fill="#fa0f00"/>
<circle cx="259.8" cy="981.5" r="6.21" fill="#ff2200"/>
<circle cx="252.8" cy="981.0" r="6.21" fill="#ffab00"/>
<circle cx="571.5" cy="731.0" r="6.21" fill="#26ffd1"/>
<circle cx="289.5" cy="967.4" r="6.21" fill="#ffd700"/>
<circle cx="247.5" cy="990.1" r="6.21" fill="#ff7300"/>
<circle cx="471.0" cy="791.0" r="6.21" fill="#23ffd4"/>
<circle cx="567.0" cy="712.7" r="6.21" fill="#00ccff"/>
<circle cx="363.1" cy="873.7" r="6.21" fill="#0070ff"/>
<circle cx="355.0" cy="894.2" r="6.21" fill="#ff7a00"/>
<circle cx="795.4" cy="627.7" r="6.21" fill="#000084"/>
<circle cx="596.2" cy="705.8" r="6.21" fill="#00c4ff"/>
<circle cx="825.9" cy="522.6" r="6.21" fill="#0000df"/>
<circle cx="599.8" cy="698.9" r="6.21" fill="#00b0ff"/>
<circle cx="622.9" cy="739.6" r="6.21" fill="#00009f"/>
<circle cx="559.5" cy="712.5" r="6.21" fill="#0094ff"/>
<circle cx="532.9" cy="723.4" r="6.21" fill="#0014ff"/>
<circle cx="401.5" cy="864.8" r="6.21" fill="#ff8900"/>
<circle cx="289.0" cy="953.7" r="6.21" fill="#b60000"/>
<circle cx="683.7" cy="632.5" r="6.21" fill="#0050ff"/>
<circle cx="284.7" cy="951.4" r="6.21" fill="#ffb200"/>
<circle cx="591.8" cy="651.8" r="6.21" fill="#000096"/>
<circle cx="320.3" cy="934.9" r="6.21" fill="#bf0000"/>
<circle cx="396.9" cy="866.5" r="6.21" fill="#ff7a00"/>
<circle cx="342.2" cy="894.2" r="6.21" fill="#00d8ff"/>
<circle cx="365.3" cy="899.6" r="6.21" fill="#ff5200"/>
<circle cx="374.9" cy="875.1" r="6.21" fill="#f4f802"/>
<circle cx="278.0" cy="966.9" r="6.21" fill="#b20000"/>
<circle cx="288.7" cy="946.4" r="6.21" fill="#f1fc06"/>
<circle cx="294.4" cy="976.7" r="6.21" fill="#003cff"/>
<circle cx="282.0" cy="953.6" r="6.21" fill="#ffb900"/>
<circle cx="507.4" cy="785.0" r="6.21" fill="#9aff5d"/>
<circle cx="437.5" cy="785.7" r="6.21" fill="#000096"/>
<circle cx="416.1" cy="820.6" r="6.21" fill="#0000f1"/>
<circle cx="459.6" cy="824.6" r="6.21" fill="#d4ff23"/>
<circle cx="271.9" cy="984.3" r="6.21" fill="#94ff63"/>
<circle cx="548.4" cy="736.1" r="6.21" fill="#19ffde"/>
<circle cx="667.7" cy="663.9" r="6.21" fill="#0004ff"/>
<circle cx="441.7" cy="841.5" r="6.21" fill="#d7ff1f"/>
<circle cx="469.8" cy="817.7" r="6.21" fill="#c1ff36"/>
<circle cx="295.5" cy="957.0" r="6.21" fill="#f10800"/>
<circle cx="224.8" cy="1003.4" r="6.21" fill="#80ff77"/>
<circle cx="662.8" cy="617.1" r="6.21" fill="#0000d6"/>
<circle cx="298.3" cy="950.7" r="6.21" fill="#890000"/>
<circle cx="375.6" cy="864.6" r="6.21" fill="#0090ff"/>
<circle cx="202.9" cy="1014.7" r="6.21" fill="#003cff"/>
<circle cx="500.9" cy="785.6" r="6.21" fill="#a4ff53"/>
<circle cx="693.1" cy="621.8" r="6.21" fill="#0050ff"/>
<circle cx="324.8" cy="926.4" r="6.21" fill="#920000"/>
<circle cx="291.9" cy="947.5" r="6.21" fill="#ff4700"/>
<circle cx="560.9" cy="727.6" r="6.21" fill="#06ecf1"/>
<circle cx="392.7" cy="881.7" r="6.21" fill="#ffd000"/>
<circle cx="513.6" cy="817.9" r="6.21" fill="#0000d1"/>
<circle cx="596.5" cy="703.2" r="6.21" fill="#00bcff"/>
<circle cx="384.6" cy="843.4" r="6.21" fill="#0000c8"/>
<circle cx="467.3" cy="842.8" r="6.21" fill="#0054ff"/>
<circle cx="430.3" cy="841.8" r="6.21" fill="#ffd000"/>
<circle cx="847.8" cy="478.1" r="6.21" fill="#0000bb"/>
<circle cx="736.0" cy="568.6" r="6.21" fill="#0000f1"/>
<circle cx="468.2" cy="830.3" r="6.21" fill="#43ffb4"/>
<circle cx="243.8" cy="1007.5" r="6.21" fill="#2cffca"/>
<circle cx="280.4" cy="938.5" r="6.21" fill="#0000ff"/>
<circle cx="474.2" cy="770.3" r="6.21" fill="#0000ff"/>
<circle cx="823.5" cy="509.0" r="6.21" fill="#0000f6"/>
<circle cx="249.3" cy="981.3" r="6.21" fill="#d1ff26"/>
<circle cx="342.9" cy="928.0" r="6.21" fill="#b1ff46"/>
<circle cx="490.0" cy="797.6" r="6.21" fill="#b4ff43"/>
<circle cx="409.1" cy="872.6" r="6.21" fill="#beff39"/>
<circle cx="330.2" cy="926.6" r="6.21" fill="#cd0000"/>
<circle cx="517.9" cy="782.3" r="6.21" fill="#6dff8a"/>
<circle cx="626.8" cy="659.9" r="6.21" fill="#0044ff"/>
<circle cx="471.2" cy="834.7" r="6.21" fill="#00acff"/>
<circle cx="510.7" cy="755.3" r="6.21" fill="#00dcfe"/>
<circle cx="481.4" cy="852.0" r="6.21" fill="#00009b"/>
<circle cx="505.1" cy="765.0" r="6.21" fill="#39ffbe"/>
<circle cx="463.3" cy="835.9" r="6.21" fill="#26ffd1"/>
<circle cx="257.3" cy="963.0" r="6.21" fill="#0040ff"/>
<circle cx="345.8" cy="927.2" r="6.21" fill="#80ff77"/>
<circle cx="408.4" cy="861.6" r="6.21" fill="#ffa300"/>
<circle cx="531.8" cy="739.4" r="6.21" fill="#06ecf1"/>
<circle cx="488.0" cy="777.3" r="6.21" fill="#26ffd1"/>
<circle cx="506.1" cy="775.7" r="6.21" fill="#8aff6d"/>
<circle cx="478.2" cy="764.3" r="6.21" fill="#0000f1"/>
<circle cx="232.0" cy="1013.3" r="6.21" fill="#60ff97"/>
<circle cx="632.6" cy="734.9" r="6.21" fill="#00009b"/>
<circle cx="353.3" cy="911.7" r="6.21" fill="#ff6800"/>
<circle cx="662.5" cy="695.7" r="6.21" fill="#0000b6"/>
<circle cx="743.8" cy="576.7" r="6.21" fill="#0034ff"/>
<circle cx="546.7" cy="760.9" r="6.21" fill="#1fffd7"/>
<circle cx="457.7" cy="838.6" r="6.21" fill="#4dffaa"/>
<circle cx="294.6" cy="950.9" r="6.21" fill="#8d0000"/>
<circle cx="305.9" cy="947.6" r="6.21" fill="#d10000"/>
<circle cx="471.5" cy="812.0" r="6.21" fill="#d1ff26"/>
<circle cx="383.7" cy="883.2" r="6.21" fill="#ff6f00"/>
<circle cx="650.7" cy="726.8" r="6.21" fill="#000092"/>
<circle cx="537.7" cy="768.8" r="6.21" fill="#26ffd1"/>
<circle cx="403.0" cy="868.8" r="6.21" fill="#ffae00"/>
<circle cx="357.0" cy="900.0" r="6.21" fill="#e80000"/>
<circle cx="805.1" cy="545.4" r="6.21" fill="#0000da"/>
<circle cx="482.3" cy="824.4" r="6.21" fill="#00bcff"/>
<circle cx="575.0" cy="753.8" r="6.21" fill="#0018ff"/>
<circle cx="541.9" cy="766.0" r="6.21" fill="#16ffe1"/>
<circle cx="313.4" cy="931.3" r="6.21" fill="#e40000"/>
<circle cx="512.2" cy="779.3" r="6.21" fill="#97ff60"/>
<circle cx="499.9" cy="784.2" r="6.21" fill="#a4ff53"/>
<circle cx="293.6" cy="956.4" r="6.21" fill="#b20000"/>
<circle cx="344.3" cy="906.0" r="6.21" fill="#ff1300"/>
<circle cx="618.9" cy="609.7" r="6.21" fill="#000080"/>
<circle cx="439.5" cy="843.9" r="6.21" fill="#d7ff1f"/>
<circle cx="410.7" cy="846.7" r="6.21" fill="#dbff1c"/>
<circle cx="680.7" cy="634.8" r="6.21" fill="#0050ff"/>
<circle cx="262.2" cy="969.1" r="6.21" fill="#ceff29"/>
<circle cx="390.6" cy="859.8" r="6.21" fill="#90ff66"/>
<circle cx="249.6" cy="992.3" r="6.21" fill="#ff7700"/>
<circle cx="277.1" cy="962.8" r="6.21" fill="#f10800"/>
<circle cx="299.5" cy="940.0" r="6.21" fill="#ff6f00"/>
<circle cx="405.9" cy="866.4" r="6.21" fill="#ffb200"/>
<circle cx="576.2" cy="730.7" r="6.21" fill="#16ffe1"/>
<circle cx="371.9" cy="886.8" r="6.21" fill="#ff2d00"/>
<circle cx="323.4" cy="940.8" r="6.21" fill="#ffe200"/>
<circle cx="772.3" cy="515.9" r="6.21" fill="#0000ad"/>
<circle cx="402.3" cy="878.5" r="6.21" fill="#beff39"/>
<circle cx="279.7" cy="952.9" r="6.21" fill="#b7ff40"/>
<circle cx="552.3" cy="720.8" r="6.21" fill="#00bcff"/>
<circle cx="506.2" cy="747.4" r="6.21" fill="#0020ff"/>
<circle cx="670.3" cy="663.6" r="6.21" fill="#0000ff"/>
<circle cx="449.8" cy="828.2" r="6.21" fill="#f4f802"/>
<circle cx="454.0" cy="810.5" r="6.21" fill="#8dff6a"/>
<circle cx="445.5" cy="850.1" r="6.21" fill="#2cffca"/>
<circle cx="306.2" cy="956.2" r="6.21" fill="#ceff29"/>
<circle cx="256.9" cy="989.4" r="6.21" fill="#ff9800"/>
<circle cx="673.1" cy="628.4" r="6.21" fill="#0028ff"/>
<circle cx="364.9" cy="907.0" r="6.21" fill="#ffea00"/>
<circle cx="369.9" cy="879.2" r="6.21" fill="#f8f500"/>
<circle cx="271.6" cy="963.7" r="6.21" fill="#ff9800"/>
<circle cx="299.6" cy="971.6" r="6.21" fill="#0058ff"/>
<circle cx="482.2" cy="819.8" r="6.21" fill="#26ffd1"/>
<circle cx="370.9" cy="880.3" r="6.21" fill="#ffb200"/>
<circle cx="359.4" cy="902.1" r="6.21" fill="#ff2500"/>
<circle cx="769.7" cy="561.9" r="6.21" fill="#0020ff"/>
<circle cx="665.4" cy="642.6" r="6.21" fill="#0064ff"/>
<circle cx="439.9" cy="811.5" r="6.21" fill="#0090ff"/>
<circle cx="385.4" cy="872.9" r="6.21" fill="#ff6800"/>
<circle cx="534.1" cy="751.3" r="6.21" fill="#43ffb4"/>
<circle cx="784.8" cy="521.5" r="6.21" fill="#0000d6"/>
<circle cx="538.0" cy="761.5" r="6.21" fill="#6aff8d"/>
<circle cx="292.4" cy="955.2" r="6.21" fill="#8d0000"/>
<circle cx="238.3" cy="1002.9" r="6.21" fill="#ffe200"/>
<circle cx="330.0" cy="941.5" r="6.21" fill="#49ffad"/>
<circle cx="280.2" cy="970.5" r="6.21" fill="#ff3f00"/>
<circle cx="579.1" cy="718.7" r="6.21" fill="#00e4f8"/>
<circle cx="376.9" cy="902.2" r="6.21" fill="#7aff7d"/>
<circle cx="457.3" cy="842.5" r="6.21" fill="#09f0ee"/>
<circle cx="384.8" cy="871.5" r="6.21" fill="#ff8600"/>
<circle cx="455.8" cy="803.5" r="6.21" fill="#1fffd7"/>
<circle cx="580.4" cy="712.1" r="6.21" fill="#00c8ff"/>
<circle cx="196.6" cy="1042.8" r="6.21" fill="#0064ff"/>
<circle cx="442.7" cy="845.0" r="6.21" fill="#adff49"/>
<circle cx="485.4" cy="782.5" r="6.21" fill="#53ffa4"/>
<circle cx="551.1" cy="712.6" r="6.21" fill="#0038ff"/>
<circle cx="641.6" cy="666.5" r="6.21" fill="#0078ff"/>
<circle cx="572.6" cy="714.3" r="6.21" fill="#00d0ff"/>
<circle cx="522.6" cy="768.1" r="6.21" fill="#7dff7a"/>
<circle cx="691.6" cy="632.2" r="6.21" fill="#0024ff"/>
<circle cx="409.0" cy="807.0" r="6.21" fill="#00008d"/>
<circle cx="447.7" cy="828.6" r="6.21" fill="#fbf100"/>
<circle cx="405.0" cy="903.0" r="6.21" fill="#0000b6"/>
<circle cx="581.1" cy="715.9" r="6.21" fill="#00d8ff"/>
<circle cx="635.3" cy="654.6" r="6.21" fill="#0038ff"/>
<circle cx="294.2" cy="966.4" r="6.21" fill="#b4ff43"/>
<circle cx="432.4" cy="840.6" r="6.21" fill="#ffd300"/>
<circle cx="496.3" cy="746.8" r="6.21" fill="#0000e8"/>
<circle cx="301.9" cy="934.5" r="6.21" fill="#deff19"/>
<circle cx="322.9" cy="899.2" r="6.21" fill="#0000e8"/>
<circle cx="256.3" cy="973.4" r="6.21" fill="#a0ff56"/>
<circle cx="513.4" cy="771.4" r="6.21" fill="#80ff77"/>
<circle cx="728.1" cy="566.0" r="6.21" fill="#0000c8"/>
<circle cx="699.7" cy="606.7" r="6.21" fill="#0020ff"/>
<circle cx="438.2" cy="846.4" r="6.21" fill="#caff2c"/>
<circle cx="263.9" cy="963.1" r="6.21" fill="#1fffd7"/>
<circle cx="367.9" cy="908.4" r="6.21" fill="#9aff5d"/>
<circle cx="347.4" cy="896.4" r="6.21" fill="#d7ff1f"/>
<circle cx="719.8" cy="603.1" r="6.21" fill="#0034ff"/>
<circle cx="599.4" cy="677.6" r="6.21" fill="#004cff"/>
<circle cx="477.0" cy="813.8" r="6.21" fill="#adff49"/>
<circle cx="384.1" cy="907.0" r="6.21" fill="#0054ff"/>
<circle cx="307.6" cy="932.9" r="6.21" fill="#ff7a00"/>
<circle cx="375.4" cy="885.1" r="6.21" fill="#ff3800"/>
<circle cx="597.1" cy="700.0" r="6.21" fill="#00b0ff"/>
<circle cx="245.2" cy="986.3" r="6.21" fill="#f4f802"/>
<circle cx="346.0" cy="895.3" r="6.21" fill="#83ff73"/>
<circle cx="524.8" cy="766.1" r="6.21" fill="#7aff7d"/>
<circle cx="717.1" cy="615.6" r="6.21" fill="#0000ff"/>
<circle cx="323.5" cy="921.2" r="6.21" fill="#ff3800"/>
<circle cx="452.7" cy="825.1" r="6.21" fill="#f1fc06"/>
<circle cx="533.8" cy="741.6" r="6.21" fill="#23ffd4"/>
<circle cx="480.3" cy="779.1" r="6.21" fill="#00b4ff"/>
<circle cx="309.7" cy="934.1" r="6.21" fill="#ed0400"/>
<circle cx="393.9" cy="881.1" r="6.21" fill="#ffd700"/>
<circle cx="540.3" cy="753.9" r="6.21" fill="#5dff9a"/>
<circle cx="425.0" cy="886.7" r="6.21" fill="#0000c4"/>
<circle cx="627.8" cy="627.2" r="6.21" fill="#00009f"/>
<circle cx="613.8" cy="699.4" r="6.21" fill="#0090ff"/>
<circle cx="217.3" cy="1014.6" r="6.21" fill="#90ff66"/>
<circle cx="485.8" cy="835.8" r="6.21" fill="#0000f6"/>
<circle cx="273.8" cy="972.3" r="6.21" fill="#df0000"/>
<circle cx="663.8" cy="695.4" r="6.21" fill="#0000b2"/>
<circle cx="237.6" cy="996.8" r="6.21" fill="#ffc800"/>
<circle cx="569.4" cy="713.1" r="6.21" fill="#00d0ff"/>
<circle cx="318.1" cy="934.2" r="6.21" fill="#8d0000"/>
<circle cx="436.9" cy="818.6" r="6.21" fill="#19ffde"/>
<circle cx="526.8" cy="803.8" r="6.21" fill="#0000ed"/>
<circle cx="746.5" cy="583.2" r="6.21" fill="#0024ff"/>
<circle cx="299.6" cy="943.2" r="6.21" fill="#da0000"/>
<circle cx="760.3" cy="592.6" r="6.21" fill="#0000bf"/>
<circle cx="274.8" cy="967.7" r="6.21" fill="#bf0000"/>
<circle cx="378.3" cy="894.7" r="6.21" fill="#ffd300"/>
<circle cx="382.8" cy="887.8" r="6.21" fill="#ff9f00"/>
<circle cx="554.4" cy="764.7" r="6.21" fill="#0060ff"/>
<circle cx="438.0" cy="860.8" r="6.21" fill="#00b8ff"/>
<circle cx="228.5" cy="989.0" r="6.21" fill="#002cff"/>
<circle cx="341.6" cy="924.6" r="6.21" fill="#ffb600"/>
<circle cx="252.5" cy="988.9" r="6.21" fill="#ff5500"/>
<circle cx="275.0" cy="987.0" r="6.21" fill="#00d0ff"/>
<circle cx="571.8" cy="709.9" r="6.21" fill="#00c8ff"/>
<circle cx="465.8" cy="799.1" r="6.21" fill="#66ff90"/>
<circle cx="323.1" cy="951.9" r="6.21" fill="#0088ff"/>
<circle cx="502.8" cy="804.1" r="6.21" fill="#00e0fb"/>
<circle cx="367.6" cy="900.6" r="6.21" fill="#ff8900"/>
<circle cx="441.2" cy="841.6" r="6.21" fill="#dbff1c"/>
<circle cx="673.9" cy="655.8" r="6.21" fill="#0010ff"/>
<circle cx="338.1" cy="921.9" r="6.21" fill="#ff1e00"/>
<circle cx="333.4" cy="945.1" r="6.21" fill="#0068ff"/>
<circle cx="328.5" cy="926.5" r="6.21" fill="#ad0000"/>
<circle cx="591.3" cy="742.3" r="6.21" fill="#0000ff"/>
<circle cx="504.4" cy="764.5" r="6.21" fill="#2cffca"/>
<circle cx="406.7" cy="856.7" r="6.21" fill="#ff9c00"/>
<circle cx="787.9" cy="518.7" r="6.21" fill="#0000d6"/>
<circle cx="577.1" cy="707.5" r="6.21" fill="#00c0ff"/>
<circle cx="540.8" cy="785.8" r="6.21" fill="#0018ff"/>
<circle cx="586.0" cy="729.0" r="6.21" fill="#00a4ff"/>
<circle cx="355.2" cy="901.8" r="6.21" fill="#e40000"/>
<circle cx="288.2" cy="951.1" r="6.21" fill="#ff3800"/>
<circle cx="300.3" cy="958.0" r="6.21" fill="#ffb200"/>
<circle cx="311.2" cy="944.5" r="6.21" fill="#fa0f00"/>
<circle cx="251.2" cy="960.9" r="6.21" fill="#0000cd"/>
<circle cx="831.6" cy="503.7" r="6.21" fill="#0000ed"/>
<circle cx="278.5" cy="987.9" r="6.21" fill="#0054ff"/>
<circle cx="415.4" cy="875.0" r="6.21" fill="#1cffdb"/>
<circle cx="368.1" cy="898.4" r="6.21" fill="#ff6800"/>
<circle cx="236.1" cy="996.6" r="6.21" fill="#feed00"/>
<circle cx="347.7" cy="906.2" r="6.21" fill="#d10000"/>
<circle cx="352.7" cy="908.7" r="6.21" fill="#ff2200"/>
<circle cx="293.6" cy="964.7" r="6.21" fill="#ffea00"/>
<circle cx="361.0" cy="903.9" r="6.21" fill="#ff5900"/>
<circle cx="340.4" cy="917.6" r="6.21" fill="#da0000"/>
<circle cx="401.5" cy="859.3" r="6.21" fill="#ff9c00"/>
<circle cx="771.2" cy="552.9" r="6.21" fill="#0024ff"/>
<circle cx="416.4" cy="872.4" r="6.21" fill="#43ffb4"/>
<circle cx="419.2" cy="831.5" r="6.21" fill="#00dcfe"/>
<circle cx="525.7" cy="752.5" r="6.21" fill="#40ffb7"/>
<circle cx="830.0" cy="520.7" r="6.21" fill="#0000d6"/>
<circle cx="212.4" cy="1010.2" r="6.21" fill="#00c4ff"/>
<circle cx="368.4" cy="914.4" r="6.21" fill="#00c8ff"/>
<circle cx="448.4" cy="850.4" r="6.21" fill="#00e4f8"/>
<circle cx="354.3" cy="926.1" r="6.21" fill="#00b8ff"/>
<circle cx="371.3" cy="880.1" r="6.21" fill="#ffa700"/>
<circle cx="320.6" cy="933.9" r="6.21" fill="#ad0000"/>
<circle cx="452.3" cy="812.5" r="6.21" fill="#9dff5a"/>
<circle cx="782.3" cy="567.7" r="6.21" fill="#0000d1"/>
<circle cx="244.9" cy="1007.1" r="6.21" fill="#1fffd7"/>
<circle cx="483.8" cy="824.5" r="6.21" fill="#00a4ff"/>
<circle cx="301.7" cy="939.1" r="6.21" fill="#ff4300"/>
<circle cx="440.2" cy="826.9" r="6.21" fill="#f1fc06"/>
<circle cx="337.0" cy="924.2" r="6.21" fill="#ff3b00"/>
<circle cx="669.0" cy="653.5" r="6.21" fill="#002cff"/>
<circle cx="310.7" cy="928.6" r="6.21" fill="#ffc800"/>
<circle cx="215.2" cy="1012.9" r="6.21" fill="#5dff9a"/>
<circle cx="530.7" cy="807.0" r="6.21" fill="#0000bf"/>
<circle cx="283.8" cy="971.5" r="6.21" fill="#ffcc00"/>
<circle cx="402.9" cy="851.6" r="6.21" fill="#beff39"/>
<circle cx="502.2" cy="745.1" r="6.21" fill="#0000ff"/>
<circle cx="740.9" cy="624.8" r="6.21" fill="#0000a8"/>
<circle cx="303.6" cy="899.0" r="6.21" fill="#000089"/>
<circle cx="239.6" cy="1000.9" r="6.21" fill="#ffc400"/>
<circle cx="383.9" cy="902.7" r="6.21" fill="#00bcff"/>
<circle cx="418.7" cy="866.7" r="6.21" fill="#97ff60"/>
<circle cx="703.9" cy="602.8" r="6.21" fill="#001cff"/>
<circle cx="457.8" cy="864.3" r="6.21" fill="#0000b6"/>
<circle cx="213.1" cy="1013.3" r="6.21" fill="#39ffbe"/>
<circle cx="495.0" cy="778.7" r="6.21" fill="#77ff80"/>
<circle cx="463.5" cy="809.8" r="6.21" fill="#dbff1c"/>
<circle cx="231.6" cy="1002.9" r="6.21" fill="#feed00"/>
<circle cx="340.1" cy="880.2" r="6.21" fill="#0000bf"/>
<circle cx="433.6" cy="846.3" r="6.21" fill="#f1fc06"/>
<circle cx="335.5" cy="918.5" r="6.21" fill="#a80000"/>
<circle cx="694.9" cy="613.4" r="6.21" fill="#0038ff"/>
<circle cx="493.2" cy="774.1" r="6.21" fill="#36ffc1"/>
<circle cx="253.5" cy="1011.3" r="6.21" fill="#0000f1"/>
<circle cx="679.9" cy="654.8" r="6.21" fill="#0000ff"/>
<circle cx="684.7" cy="649.4" r="6.21" fill="#0000ff"/>
<circle cx="546.3" cy="683.9" r="6.21" fill="#00008d"/>
<circle cx="281.1" cy="959.2" r="6.21" fill="#e80000"/>
<circle cx="267.0" cy="978.2" r="6.21" fill="#ff1a00"/>
<circle cx="476.7" cy="796.7" r="6.21" fill="#b1ff46"/>
<circle cx="497.2" cy="802.5" r="6.21" fill="#63ff94"/>
<circle cx="600.4" cy="662.2" r="6.21" fill="#0000d6"/>
<circle cx="327.8" cy="915.6" r="6.21" fill="#ff8d00"/>
<circle cx="332.0" cy="940.4" r="6.21" fill="#39ffbe"/>
<circle cx="494.8" cy="789.8" r="6.21" fill="#b1ff46"/>
<circle cx="586.4" cy="677.5" r="6.21" fill="#0000fa"/>
<circle cx="475.1" cy="803.3" r="6.21" fill="#d1ff26"/>
<circle cx="743.3" cy="570.8" r="6.21" fill="#0018ff"/>
<circle cx="603.3" cy="716.4" r="6.21" fill="#0068ff"/>
<circle cx="458.8" cy="828.3" r="6.21" fill="#c1ff36"/>
<circle cx="335.9" cy="915.0" r="6.21" fill="#bb0000"/>
<circle cx="637.4" cy="683.2" r="6.21" fill="#0050ff"/>
<circle cx="664.2" cy="658.0" r="6.21" fill="#0030ff"/>
<circle cx="282.7" cy="964.1" r="6.21" fill="#ad0000"/>
<circle cx="306.7" cy="936.4" r="6.21" fill="#f60b00"/>
<circle cx="483.1" cy="825.7" r="6.21" fill="#009cff"/>
<circle cx="363.3" cy="914.1" r="6.21" fill="#60ff97"/>
<circle cx="494.6" cy="783.9" r="6.21" fill="#9aff5d"/>
<circle cx="408.9" cy="851.9" r="6.21" fill="#ffc100"/>
<circle cx="478.6" cy="814.9" r="6.21" fill="#9aff5d"/>
<circle cx="768.3" cy="566.0" r="6.21" fill="#0018ff"/>
<circle cx="532.6" cy="764.3" r="6.21" fill="#77ff80"/>
<circle cx="465.1" cy="808.1" r="6.21" fill="#d4ff23"/>
<circle cx="438.4" cy="828.5" r="6.21" fill="#f4f802"/>
<circle cx="240.0" cy="1002.5" r="6.21" fill="#feed00"/>
<circle cx="530.8" cy="742.3" r="6.21" fill="#19ffde"/>
<circle cx="494.3" cy="840.4" r="6.21" fill="#0000a4"/>
<circle cx="328.8" cy="894.6" r="6.21" fill="#0000f1"/>
<circle cx="748.9" cy="616.0" r="6.21" fill="#0000a8"/>
<circle cx="526.3" cy="744.6" r="6.21" fill="#0ff8e7"/>
<circle cx="234.4" cy="1001.5" r="6.21" fill="#ffd300"/>
<circle cx="234.2" cy="999.6" r="6.21" fill="#ffe600"/>
<circle cx="414.0" cy="851.9" r="6.21" fill="#ffab00"/>
<circle cx="269.0" cy="966.2" r="6.21" fill="#ff9100"/>
<circle cx="585.3" cy="732.6" r="6.21" fill="#0078ff"/>
<circle cx="854.0" cy="477.9" r="6.21" fill="#0000bb"/>
<circle cx="484.6" cy="793.7" r="6.21" fill="#b7ff40"/>
<circle cx="258.4" cy="978.9" r="6.21" fill="#ff4a00"/>
<circle cx="346.4" cy="902.6" r="6.21" fill="#ff4700"/>
<circle cx="557.3" cy="746.7" r="6.21" fill="#40ffb7"/>
<circle cx="601.4" cy="660.4" r="6.21" fill="#0000d1"/>
<circle cx="300.9" cy="946.2" r="6.21" fill="#800000"/>
<circle cx="276.0" cy="959.7" r="6.21" fill="#ff9800"/>
<circle cx="397.8" cy="858.1" r="6.21" fill="#ffe600"/>
<circle cx="385.1" cy="889.9" r="6.21" fill="#ffea00"/>
<circle cx="429.0" cy="827.2" r="6.21" fill="#50ffa7"/>
<circle cx="711.3" cy="607.9" r="6.21" fill="#0044ff"/>
<circle cx="359.0" cy="893.5" r="6.21" fill="#ff3800"/>
<circle cx="210.1" cy="1016.4" r="6.21" fill="#30ffc7"/>
<circle cx="433.1" cy="841.9" r="6.21" fill="#ffdb00"/>
<circle cx="303.3" cy="946.0" r="6.21" fill="#840000"/>
<circle cx="221.4" cy="1012.4" r="6.21" fill="#b4ff43"/>
<circle cx="480.9" cy="765.1" r="6.21" fill="#0000ff"/>
<circle cx="277.2" cy="970.6" r="6.21" fill="#ed0400"/>
<circle cx="899.9" cy="468.9" r="6.21" fill="#00008d"/>
<circle cx="606.5" cy="668.4" r="6.21" fill="#0024ff"/>
<circle cx="292.6" cy="954.7" r="6.21" fill="#890000"/>
<circle cx="543.8" cy="713.0" r="6.21" fill="#0008ff"/>
<circle cx="520.4" cy="795.5" r="6.21" fill="#0078ff"/>
<circle cx="260.7" cy="996.0" r="6.21" fill="#1cffdb"/>
<circle cx="562.2" cy="734.4" r="6.21" fill="#29ffce"/>
<circle cx="312.8" cy="937.9" r="6.21" fill="#840000"/>
<circle cx="577.6" cy="704.5" r="6.21" fill="#00b8ff"/>
<circle cx="364.1" cy="898.4" r="6.21" fill="#ff3400"/>
<circle cx="295.8" cy="963.8" r="6.21" fill="#e4ff13"/>
<circle cx="429.9" cy="845.5" r="6.21" fill="#ffdb00"/>
<circle cx="259.6" cy="950.0" r="6.21" fill="#0000b2"/>
<circle cx="336.1" cy="908.2" r="6.21" fill="#ffa700"/>
<circle cx="401.3" cy="896.7" r="6.21" fill="#0024ff"/>
<circle cx="348.7" cy="898.0" r="6.21" fill="#ffa700"/>
<circle cx="841.0" cy="462.1" r="6.21" fill="#00009b"/>
<circle cx="313.7" cy="936.9" r="6.21" fill="#840000"/>
<circle cx="450.8" cy="865.0" r="6.21" fill="#0000da"/>
<circle cx="639.3" cy="649.5" r="6.21" fill="#0030ff"/>
<circle cx="431.8" cy="855.4" r="6.21" fill="#9dff5a"/>
<circle cx="303.9" cy="932.4" r="6.21" fill="#c7ff30"/>
<circle cx="313.0" cy="934.6" r="6.21" fill="#920000"/>
<circle cx="530.7" cy="720.4" r="6.21" fill="#0000ff"/>
<circle cx="424.5" cy="830.7" r="6.21" fill="#50ffa7"/>
<circle cx="569.0" cy="738.4" r="6.21" fill="#1fffd7"/>
<circle cx="241.8" cy="992.1" r="6.21" fill="#ffc100"/>
<circle cx="498.0" cy="751.4" r="6.21" fill="#0008ff"/>
<circle cx="377.2" cy="911.0" r="6.21" fill="#0070ff"/>
<circle cx="259.1" cy="984.5" r="6.21" fill="#ff3f00"/>
<circle cx="909.3" cy="482.9" r="6.21" fill="#000084"/>
<circle cx="742.4" cy="589.7" r="6.21" fill="#0018ff"/>
<circle cx="527.3" cy="776.0" r="6.21" fill="#4dffaa"/>
<circle cx="675.2" cy="641.0" r="6.21" fill="#004cff"/>
<circle cx="294.8" cy="958.7" r="6.21" fill="#ff2d00"/>
<circle cx="236.1" cy="987.2" r="6.21" fill="#00d0ff"/>
<circle cx="692.6" cy="580.2" r="6.21" fill="#0000ad"/>
<circle cx="337.3" cy="924.7" r="6.21" fill="#ff5200"/>
<circle cx="451.9" cy="828.3" r="6.21" fill="#ebff0c"/>
<circle cx="244.5" cy="995.3" r="6.21" fill="#ff8d00"/>
<circle cx="349.4" cy="900.6" r="6.21" fill="#ff3800"/>
<circle cx="398.3" cy="860.2" r="6.21" fill="#ffae00"/>
<circle cx="486.5" cy="818.4" r="6.21" fill="#00e4f8"/>
<circle cx="404.5" cy="873.8" r="6.21" fill="#eeff09"/>
<circle cx="457.2" cy="808.5" r="6.21" fill="#94ff63"/>
<circle cx="486.0" cy="789.0" r="6.21" fill="#a0ff56"/>
<circle cx="534.7" cy="789.7" r="6.21" fill="#002cff"/>
<circle cx="296.1" cy="966.0" r="6.21" fill="#90ff66"/>
<circle cx="519.0" cy="759.6" r="6.21" fill="#50ffa7"/>
<circle cx="399.7" cy="879.1" r="6.21" fill="#deff19"/>
<circle cx="449.2" cy="838.1" r="6.21" fill="#baff3c"/>
<circle cx="393.9" cy="859.2" r="6.21" fill="#d1ff26"/>
<circle cx="295.8" cy="940.6" r="6.21" fill="#ffea00"/>
<circle cx="360.7" cy="915.4" r="6.21" fill="#7aff7d"/>
<circle cx="322.4" cy="913.8" r="6.21" fill="#56ffa0"/>
<circle cx="317.2" cy="939.2" r="6.21" fill="#f10800"/>
<circle cx="228.9" cy="1001.6" r="6.21" fill="#beff39"/>
<circle cx="254.2" cy="976.2" r="6.21" fill="#c1ff36"/>
<circle cx="470.4" cy="796.4" r="6.21" fill="#73ff83"/>
<circle cx="213.5" cy="1014.0" r="6.21" fill="#4dffaa"/>
<circle cx="265.5" cy="991.6" r="6.21" fill="#3cffba"/>
<circle cx="358.3" cy="909.3" r="6.21" fill="#ff9400"/>
<circle cx="285.2" cy="974.9" r="6.21" fill="#7dff7a"/>
<circle cx="280.9" cy="952.6" r="6.21" fill="#d7ff1f"/>
<circle cx="478.2" cy="752.5" r="6.21" fill="#00009f"/>
<circle cx="266.0" cy="975.1" r="6.21" fill="#ed0400"/>
<circle cx="249.3" cy="976.8" r="6.21" fill="#2cffca"/>
<circle cx="436.2" cy="839.6" r="6.21" fill="#ffe200"/>
<circle cx="448.8" cy="827.1" r="6.21" fill="#fbf100"/>
<circle cx="824.7" cy="479.4" r="6.21" fill="#0000b2"/>
<circle cx="797.2" cy="529.7" r="6.21" fill="#0004ff"/>
<circle cx="624.9" cy="696.7" r="6.21" fill="#0054ff"/>
<circle cx="376.1" cy="875.3" r="6.21" fill="#ffd000"/>
<circle cx="225.5" cy="1023.2" r="6.21" fill="#00a8ff"/>
<circle cx="495.2" cy="808.6" r="6.21" fill="#1fffd7"/>
<circle cx="536.4" cy="766.2" r="6.21" fill="#56ffa0"/>
<circle cx="567.2" cy="728.3" r="6.21" fill="#13fce4"/>
<circle cx="362.2" cy="889.0" r="6.21" fill="#ff6f00"/>
<circle cx="225.2" cy="1010.8" r="6.21" fill="#ceff29"/>
<circle cx="472.5" cy="811.8" r="6.21" fill="#ceff29"/>
<circle cx="470.6" cy="815.0" r="6.21" fill="#caff2c"/>
<circle cx="573.9" cy="730.1" r="6.21" fill="#1fffd7"/>
<circle cx="553.0" cy="769.5" r="6.21" fill="#0048ff"/>
<circle cx="497.0" cy="779.6" r="6.21" fill="#87ff70"/>
<circle cx="567.5" cy="745.4" r="6.21" fill="#00bcff"/>
<circle cx="863.9" cy="482.9" r="6.21" fill="#0000b6"/>
<circle cx="209.1" cy="1028.8" r="6.21" fill="#1cffdb"/>
<circle cx="676.6" cy="649.0" r="6.21" fill="#0020ff"/>
<circle cx="453.7" cy="854.9" r="6.21" fill="#003cff"/>
<circle cx="261.3" cy="974.9" r="6.21" fill="#ff6000"/>
<circle cx="594.0" cy="712.7" r="6.21" fill="#00d0ff"/>
<circle cx="559.7" cy="749.8" r="6.21" fill="#09f0ee"/>
<circle cx="492.4" cy="791.1" r="6.21" fill="#b4ff43"/>
<circle cx="549.9" cy="751.9" r="6.21" fill="#53ffa4"/>
<circle cx="347.3" cy="940.3" r="6.21" fill="#0000ff"/>
<circle cx="465.1" cy="819.5" r="6.21" fill="#ceff29"/>
<circle cx="427.3" cy="854.3" r="6.21" fill="#deff19"/>
<circle cx="599.0" cy="703.3" r="6.21" fill="#00bcff"/>
<circle cx="424.3" cy="864.9" r="6.21" fill="#60ff97"/>
<circle cx="489.7" cy="795.7" r="6.21" fill="#b7ff40"/>
<circle cx="449.3" cy="774.6" r="6.21" fill="#000096"/>
<circle cx="284.1" cy="956.5" r="6.21" fill="#e80000"/>
<circle cx="716.7" cy="603.3" r="6.21" fill="#0040ff"/>
<circle cx="565.8" cy="741.8" r="6.21" fill="#1fffd7"/>
<circle cx="481.5" cy="827.0" r="6.21" fill="#009cff"/>
<circle cx="239.0" cy="989.2" r="6.21" fill="#8dff6a"/>
<circle cx="632.2" cy="671.6" r="6.21" fill="#0084ff"/>
<circle cx="529.2" cy="770.0" r="6.21" fill="#73ff83"/>
<circle cx="446.9" cy="835.9" r="6.21" fill="#deff19"/>
<circle cx="222.3" cy="1025.5" r="6.21" fill="#00a0ff"/>
<circle cx="829.0" cy="492.4" r="6.21" fill="#0000cd"/>
<circle cx="811.0" cy="524.5" r="6.21" fill="#0000ff"/>
<circle cx="339.6" cy="912.7" r="6.21" fill="#bb0000"/>
<circle cx="522.6" cy="770.9" r="6.21" fill="#83ff73"/>
<circle cx="310.3" cy="931.7" r="6.21" fill="#ff4a00"/>
<circle cx="345.1" cy="930.2" r="6.21" fill="#33ffc4"/>
<circle cx="650.6" cy="627.5" r="6.21" fill="#0000df"/>
<circle cx="400.8" cy="871.1" r="6.21" fill="#ffab00"/>
<circle cx="456.1" cy="800.4" r="6.21" fill="#00c8ff"/>
<circle cx="777.1" cy="503.6" r="6.21" fill="#000096"/>
<circle cx="402.0" cy="832.5" r="6.21" fill="#0000f1"/>
<circle cx="370.5" cy="898.8" r="6.21" fill="#ff9800"/>
<circle cx="320.9" cy="933.3" r="6.21" fill="#a80000"/>
<circle cx="403.9" cy="869.6" r="6.21" fill="#ffbd00"/>
<circle cx="274.6" cy="939.3" r="6.21" fill="#0000cd"/>
<circle cx="799.8" cy="522.2" r="6.21" fill="#0000f6"/>
<circle cx="515.0" cy="746.1" r="6.21" fill="#0070ff"/>
<circle cx="334.6" cy="937.9" r="6.21" fill="#46ffb1"/>
<circle cx="425.7" cy="835.8" r="6.21" fill="#deff19"/>
<circle cx="730.4" cy="573.5" r="6.21" fill="#0000f1"/>
<circle cx="291.7" cy="960.1" r="6.21" fill="#f60b00"/>
<circle cx="299.2" cy="942.8" r="6.21" fill="#f60b00"/>
<circle cx="272.1" cy="971.4" r="6.21" fill="#c80000"/>
<circle cx="1030.3" cy="358.3" r="6.21" fill="#000080"/>
<circle cx="360.2" cy="885.8" r="6.21" fill="#d1ff26"/>
<circle cx="643.1" cy="669.6" r="6.21" fill="#0064ff"/>
<circle cx="352.8" cy="877.3" r="6.21" fill="#000cff"/>
<circle cx="475.4" cy="835.1" r="6.21" fill="#006cff"/>
<circle cx="316.6" cy="900.9" r="6.21" fill="#0000c4"/>
<circle cx="629.5" cy="654.4" r="6.21" fill="#0034ff"/>
<circle cx="808.6" cy="514.7" r="6.21" fill="#0000ed"/>
<circle cx="277.8" cy="972.2" r="6.21" fill="#ff3f00"/>
<circle cx="443.0" cy="823.5" r="6.21" fill="#deff19"/>
<circle cx="774.9" cy="632.9" r="6.21" fill="#000089"/>
<circle cx="413.2" cy="871.6" r="6.21" fill="#8dff6a"/>
<circle cx="664.5" cy="653.1" r="6.21" fill="#0040ff"/>
<circle cx="432.8" cy="828.8" r="6.21" fill="#baff3c"/>
<circle cx="463.2" cy="811.2" r="6.21" fill="#e1ff16"/>
<circle cx="538.5" cy="741.3" r="6.21" fill="#26ffd1"/>
<circle cx="417.2" cy="882.3" r="6.21" fill="#0050ff"/>
<circle cx="386.9" cy="850.8" r="6.21" fill="#002cff"/>
<circle cx="823.6" cy="542.1" r="6.21" fill="#0000a8"/>
<circle cx="815.6" cy="524.5" r="6.21" fill="#0000ff"/>
<circle cx="352.4" cy="912.6" r="6.21" fill="#ff6800"/>
<circle cx="562.2" cy="758.3" r="6.21" fill="#0054ff"/>
<circle cx="366.0" cy="904.1" r="6.21" fill="#ffb900"/>
<circle cx="725.3" cy="553.6" r="6.21" fill="#0000ad"/>
<circle cx="544.8" cy="731.3" r="6.21" fill="#0cf4eb"/>
<circle cx="572.6" cy="697.5" r="6.21" fill="#004cff"/>
<circle cx="391.2" cy="878.2" r="6.21" fill="#ff8d00"/>
<circle cx="651.6" cy="641.1" r="6.21" fill="#0020ff"/>
<circle cx="462.6" cy="835.8" r="6.21" fill="#33ffc4"/>
<circle cx="399.5" cy="907.3" r="6.21" fill="#0000b6"/>
<circle cx="865.0" cy="498.9" r="6.21" fill="#00009f"/>
<circle cx="572.3" cy="712.0" r="6.21" fill="#00ccff"/>
<circle cx="388.8" cy="847.2" r="6.21" fill="#000cff"/>
<circle cx="430.9" cy="840.8" r="6.21" fill="#ffd000"/>
<circle cx="369.3" cy="903.6" r="6.21" fill="#fbf100"/>
<circle cx="207.2" cy="1048.4" r="6.21" fill="#0000b6"/>
<circle cx="275.5" cy="963.8" r="6.21" fill="#ff1600"/>
<circle cx="305.6" cy="938.7" r="6.21" fill="#c40000"/>
<circle cx="232.0" cy="981.1" r="6.21" fill="#0000ed"/>
<circle cx="592.4" cy="683.9" r="6.21" fill="#005cff"/>
<circle cx="692.4" cy="646.6" r="6.21" fill="#0000df"/>
<circle cx="521.2" cy="748.5" r="6.21" fill="#0ff8e7"/>
<circle cx="223.5" cy="1009.8" r="6.21" fill="#c4ff33"/>
<circle cx="661.9" cy="625.2" r="6.21" fill="#0000ff"/>
<circle cx="412.6" cy="867.4" r="6.21" fill="#e1ff16"/>
<circle cx="526.4" cy="765.7" r="6.21" fill="#7aff7d"/>
<circle cx="535.9" cy="740.8" r="6.21" fill="#23ffd4"/>
<circle cx="217.7" cy="1032.7" r="6.21" fill="#0038ff"/>
<circle cx="476.8" cy="802.8" r="6.21" fill="#ceff29"/>
<circle cx="376.0" cy="878.7" r="6.21" fill="#ff6f00"/>
<circle cx="438.7" cy="807.3" r="6.21" fill="#002cff"/>
<circle cx="316.5" cy="930.4" r="6.21" fill="#ad0000"/>
<circle cx="270.8" cy="982.4" r="6.21" fill="#f1fc06"/>
<circle cx="740.1" cy="570.7" r="6.21" fill="#0004ff"/>
<circle cx="444.9" cy="850.2" r="6.21" fill="#36ffc1"/>
<circle cx="678.4" cy="635.3" r="6.21" fill="#0058ff"/>
<circle cx="789.5" cy="531.5" r="6.21" fill="#0000ff"/>
<circle cx="451.1" cy="810.8" r="6.21" fill="#6aff8d"/>
<circle cx="336.3" cy="891.2" r="6.21" fill="#0008ff"/>
<circle cx="316.9" cy="923.6" r="6.21" fill="#ffbd00"/>
<circle cx="396.2" cy="868.2" r="6.21" fill="#ff7700"/>
<circle cx="366.9" cy="871.8" r="6.21" fill="#0094ff"/>
<circle cx="613.4" cy="644.0" r="6.21" fill="#0000b6"/>
<circle cx="697.9" cy="596.4" r="6.21" fill="#0000f1"/>
<circle cx="323.8" cy="950.9" r="6.21" fill="#009cff"/>
<circle cx="466.3" cy="844.3" r="6.21" fill="#0048ff"/>
<circle cx="338.9" cy="923.8" r="6.21" fill="#ff5d00"/>
<circle cx="460.2" cy="828.5" r="6.21" fill="#b7ff40"/>
<circle cx="763.2" cy="514.6" r="6.21" fill="#000096"/>
<circle cx="361.2" cy="883.5" r="6.21" fill="#9aff5d"/>
<circle cx="305.2" cy="924.7" r="6.21" fill="#00b8ff"/>
<circle cx="507.2" cy="790.5" r="6.21" fill="#83ff73"/>
<circle cx="378.2" cy="893.8" r="6.21" fill="#ffbd00"/>
<circle cx="601.6" cy="699.5" r="6.21" fill="#00b4ff"/>
<circle cx="839.1" cy="482.5" r="6.21" fill="#0000c4"/>
<circle cx="649.0" cy="654.3" r="6.21" fill="#0068ff"/>
<circle cx="197.5" cy="1038.1" r="6.21" fill="#00b0ff"/>
<circle cx="510.1" cy="762.4" r="6.21" fill="#43ffb4"/>
<circle cx="501.4" cy="751.2" r="6.21" fill="#001cff"/>
<circle cx="216.0" cy="1034.2" r="6.21" fill="#0030ff"/>
<circle cx="376.5" cy="894.1" r="6.21" fill="#ffa700"/>
<circle cx="711.9" cy="602.1" r="6.21" fill="#0040ff"/>
<circle cx="459.7" cy="811.3" r="6.21" fill="#d4ff23"/>
<circle cx="395.7" cy="858.0" r="6.21" fill="#d7ff1f"/>
<circle cx="513.6" cy="783.2" r="6.21" fill="#87ff70"/>
<circle cx="321.7" cy="912.6" r="6.21" fill="#16ffe1"/>
<circle cx="290.6" cy="962.7" r="6.21" fill="#ff4300"/>
<circle cx="686.6" cy="688.6" r="6.21" fill="#000092"/>
<circle cx="370.6" cy="925.5" r="6.21" fill="#0000da"/>
<circle cx="403.5" cy="869.7" r="6.21" fill="#ffb900"/>
<circle cx="416.0" cy="833.2" r="6.21" fill="#00c0ff"/>
<circle cx="336.5" cy="923.6" r="6.21" fill="#ff2500"/>
<circle cx="354.5" cy="888.9" r="6.21" fill="#97ff60"/>
<circle cx="563.2" cy="750.0" r="6.21" fill="#00b4ff"/>
<circle cx="610.2" cy="706.5" r="6.21" fill="#0084ff"/>
<circle cx="467.5" cy="823.2" r="6.21" fill="#aaff4d"/>
<circle cx="393.4" cy="860.3" r="6.21" fill="#e7ff0f"/>
<circle cx="251.1" cy="998.4" r="6.21" fill="#adff49"/>
<circle cx="277.4" cy="947.0" r="6.21" fill="#0078ff"/>
<circle cx="250.4" cy="992.5" r="6.21" fill="#ff8200"/>
<circle cx="645.8" cy="631.3" r="6.21" fill="#0000e3"/>
<circle cx="426.6" cy="869.4" r="6.21" fill="#00bcff"/>
<circle cx="268.6" cy="975.1" r="6.21" fill="#df0000"/>
<circle cx="311.5" cy="931.9" r="6.21" fill="#ff1e00"/>
<circle cx="534.3" cy="778.9" r="6.21" fill="#009cff"/>
<circle cx="368.2" cy="856.8" r="6.21" fill="#0000c4"/>
<circle cx="332.2" cy="946.8" r="6.21" fill="#0050ff"/>
<circle cx="261.7" cy="982.1" r="6.21" fill="#ff2d00"/>
<circle cx="228.3" cy="1007.2" r="6.21" fill="#e7ff0f"/>
<circle cx="420.0" cy="898.6" r="6.21" fill="#00009b"/>
<circle cx="804.0" cy="526.6" r="6.21" fill="#0004ff"/>
<circle cx="580.1" cy="703.8" r="6.21" fill="#00b8ff"/>
<circle cx="465.6" cy="829.3" r="6.21" fill="#77ff80"/>
<circle cx="423.4" cy="862.5" r="6.21" fill="#9aff5d"/>
<circle cx="339.8" cy="906.0" r="6.21" fill="#ff8600"/>
<circle cx="639.8" cy="664.6" r="6.21" fill="#007cff"/>
<circle cx="479.8" cy="812.0" r="6.21" fill="#a7ff50"/>
<circle cx="304.3" cy="925.4" r="6.21" fill="#00b4ff"/>
<circle cx="516.4" cy="730.0" r="6.21" fill="#0000ed"/>
<circle cx="565.0" cy="709.1" r="6.21" fill="#009cff"/>
<circle cx="242.6" cy="1005.1" r="6.21" fill="#8aff6d"/>
<circle cx="313.3" cy="920.3" r="6.21" fill="#29ffce"/>
<circle cx="553.1" cy="749.9" r="6.21" fill="#49ffad"/>
<circle cx="472.9" cy="824.0" r="6.21" fill="#66ff90"/>
<circle cx="403.6" cy="871.4" r="6.21" fill="#ffcc00"/>
<circle cx="204.2" cy="1044.4" r="6.21" fill="#0000ff"/>
<circle cx="301.2" cy="941.1" r="6.21" fill="#f60b00"/>
<circle cx="259.6" cy="967.6" r="6.21" fill="#33ffc4"/>
<circle cx="243.1" cy="1002.3" r="6.21" fill="#d7ff1f"/>
<circle cx="733.7" cy="638.0" r="6.21" fill="#000096"/>
<circle cx="783.8" cy="515.6" r="6.21" fill="#0000c4"/>
<circle cx="479.6" cy="815.3" r="6.21" fill="#8dff6a"/>
<circle cx="316.1" cy="931.5" r="6.21" fill="#9b0000"/>
<circle cx="218.6" cy="1021.5" r="6.21" fill="#53ffa4"/>
<circle cx="349.5" cy="899.4" r="6.21" fill="#ff5d00"/>
<circle cx="816.5" cy="535.0" r="6.21" fill="#0000d6"/>
<circle cx="364.0" cy="896.4" r="6.21" fill="#ff1e00"/>
<circle cx="281.8" cy="968.7" r="6.21" fill="#ff2d00"/>
<circle cx="758.5" cy="583.1" r="6.21" fill="#0000f1"/>
<circle cx="432.1" cy="834.6" r="6.21" fill="#ffe200"/>
<circle cx="258.0" cy="988.0" r="6.21" fill="#ff8200"/>
<circle cx="536.1" cy="729.5" r="6.21" fill="#007cff"/>
<circle cx="430.6" cy="840.9" r="6.21" fill="#ffcc00"/>
<circle cx="682.7" cy="645.8" r="6.21" fill="#0014ff"/>
<circle cx="616.9" cy="702.7" r="6.21" fill="#0068ff"/>
<circle cx="374.9" cy="901.4" r="6.21" fill="#beff39"/>
<circle cx="475.5" cy="813.2" r="6.21" fill="#baff3c"/>
<circle cx="341.9" cy="929.7" r="6.21" fill="#94ff63"/>
<circle cx="276.3" cy="964.4" r="6.21" fill="#da0000"/>
<circle cx="545.2" cy="774.9" r="6.21" fill="#005cff"/>
<circle cx="509.9" cy="775.2" r="6.21" fill="#8aff6d"/>
<circle cx="802.2" cy="538.8" r="6.21" fill="#0000ff"/>
<circle cx="304.0" cy="1023.3" r="6.21" fill="#000080"/>
<circle cx="537.4" cy="733.6" r="6.21" fill="#00d4ff"/>
<circle cx="511.6" cy="767.5" r="6.21" fill="#6aff8d"/>
<circle cx="279.0" cy="987.8" r="6.21" fill="#004cff"/>
<circle cx="322.6" cy="917.8" r="6.21" fill="#fbf100"/>
<circle cx="238.1" cy="988.1" r="6.21" fill="#46ffb1"/>
<circle cx="361.5" cy="910.4" r="6.21" fill="#f4f802"/>
<circle cx="382.3" cy="858.3" r="6.21" fill="#007cff"/>
<circle cx="284.9" cy="941.9" r="6.21" fill="#00a8ff"/>
<circle cx="540.1" cy="703.1" r="6.21" fill="#0000b2"/>
<circle cx="269.6" cy="968.6" r="6.21" fill="#ff2900"/>
<circle cx="412.8" cy="876.7" r="6.21" fill="#23ffd4"/>
<circle cx="352.5" cy="922.3" r="6.21" fill="#70ff87"/>
<circle cx="679.7" cy="593.4" r="6.21" fill="#0000ad"/>
<circle cx="251.7" cy="985.2" r="6.21" fill="#ff6400"/>
<circle cx="331.6" cy="903.1" r="6.21" fill="#00d8ff"/>
<circle cx="443.7" cy="825.1" r="6.21" fill="#f4f802"/>
<circle cx="544.6" cy="725.7" r="6.21" fill="#00b0ff"/>
<circle cx="473.5" cy="796.7" r="6.21" fill="#9aff5d"/>
<circle cx="546.3" cy="744.4" r="6.21" fill="#36ffc1"/>
<circle cx="461.9" cy="794.7" r="6.21" fill="#00b4ff"/>
<circle cx="418.4" cy="842.1" r="6.21" fill="#f1fc06"/>
<circle cx="431.9" cy="846.8" r="6.21" fill="#fbf100"/>
<circle cx="694.7" cy="629.1" r="6.21" fill="#0028ff"/>
<circle cx="364.5" cy="911.2" r="6.21" fill="#9aff5d"/>
<circle cx="381.1" cy="894.8" r="6.21" fill="#e1ff16"/>
<circle cx="684.2" cy="620.2" r="6.21" fill="#0028ff"/>
<circle cx="424.8" cy="846.8" r="6.21" fill="#ffc400"/>
<circle cx="315.1" cy="919.8" r="6.21" fill="#50ffa7"/>
<circle cx="413.7" cy="859.2" r="6.21" fill="#ffbd00"/>
<circle cx="621.2" cy="644.2" r="6.21" fill="#0000c8"/>
<circle cx="407.3" cy="857.7" r="6.21" fill="#ff9800"/>
<circle cx="507.7" cy="782.6" r="6.21" fill="#9dff5a"/>
<circle cx="462.9" cy="810.6" r="6.21" fill="#dbff1c"/>
<circle cx="590.9" cy="742.5" r="6.21" fill="#0000ff"/>
<circle cx="388.0" cy="871.5" r="6.21" fill="#ff6800"/>
<circle cx="459.4" cy="836.9" r="6.21" fill="#50ffa7"/>
<circle cx="293.4" cy="956.4" r="6.21" fill="#ad0000"/>
<circle cx="465.4" cy="806.8" r="6.21" fill="#caff2c"/>
<circle cx="336.9" cy="884.3" r="6.21" fill="#0000cd"/>
<circle cx="237.7" cy="985.6" r="6.21" fill="#00ccff"/>
<circle cx="619.3" cy="681.3" r="6.21" fill="#0094ff"/>
<circle cx="300.6" cy="962.4" r="6.21" fill="#90ff66"/>
<circle cx="453.3" cy="830.9" r="6.21" fill="#d4ff23"/>
<circle cx="244.6" cy="997.9" r="6.21" fill="#ffb600"/>
<circle cx="785.7" cy="554.8" r="6.21" fill="#0004ff"/>
<circle cx="324.5" cy="922.0" r="6.21" fill="#ed0400"/>
<circle cx="648.7" cy="659.0" r="6.21" fill="#0074ff"/>
<circle cx="575.8" cy="728.9" r="6.21" fill="#1cffdb"/>
<circle cx="286.0" cy="966.6" r="6.21" fill="#ff5200"/>
<circle cx="396.8" cy="880.2" r="6.21" fill="#f8f500"/>
<circle cx="809.7" cy="524.7" r="6.21" fill="#0000ff"/>
<circle cx="366.4" cy="882.8" r="6.21" fill="#ffd700"/>
<circle cx="267.4" cy="969.0" r="6.21" fill="#ff5d00"/>
<circle cx="340.0" cy="959.6" r="6.21" fill="#00008d"/>
<circle cx="564.3" cy="760.5" r="6.21" fill="#0034ff"/>
<circle cx="309.4" cy="954.4" r="6.21" fill="#b7ff40"/>
<circle cx="252.5" cy="982.3" r="6.21" fill="#ff9100"/>
<circle cx="282.4" cy="977.5" r="6.21" fill="#70ff87"/>
<circle cx="357.1" cy="910.4" r="6.21" fill="#ff9400"/>
<circle cx="449.4" cy="827.7" r="6.21" fill="#f8f500"/>
<circle cx="400.0" cy="846.2" r="6.21" fill="#00bcff"/>
<circle cx="368.8" cy="889.7" r="6.21" fill="#ff2500"/>
<circle cx="637.2" cy="647.8" r="6.21" fill="#0028ff"/>
<circle cx="460.0" cy="810.8" r="6.21" fill="#d1ff26"/>
<circle cx="495.5" cy="827.4" r="6.21" fill="#0000ff"/>
<circle cx="291.1" cy="942.9" r="6.21" fill="#b7ff40"/>
<circle cx="595.1" cy="676.1" r="6.21" fill="#0018ff"/>
<circle cx="578.7" cy="705.9" r="6.21" fill="#00bcff"/>
<circle cx="232.5" cy="1000.0" r="6.21" fill="#ebff0c"/>
<circle cx="407.0" cy="825.2" r="6.21" fill="#0000d1"/>
<circle cx="286.1" cy="967.7" r="6.21" fill="#ff7a00"/>
<circle cx="486.7" cy="818.6" r="6.21" fill="#00dcfe"/>
<circle cx="449.3" cy="841.4" r="6.21" fill="#90ff66"/>
<circle cx="345.6" cy="930.5" r="6.21" fill="#1fffd7"/>
<circle cx="421.0" cy="875.8" r="6.21" fill="#0094ff"/>
<circle cx="395.4" cy="867.0" r="6.21" fill="#ff7700"/>
<circle cx="628.2" cy="719.3" r="6.21" fill="#0000bf"/>
<circle cx="231.0" cy="1009.4" r="6.21" fill="#ceff29"/>
<circle cx="779.6" cy="515.8" r="6.21" fill="#0000bb"/>
<circle cx="641.4" cy="640.4" r="6.21" fill="#000cff"/>
<circle cx="545.7" cy="704.3" r="6.21" fill="#0000df"/>
<circle cx="822.0" cy="510.6" r="6.21" fill="#0000fa"/>
<circle cx="426.4" cy="830.1" r="6.21" fill="#66ff90"/>
<circle cx="444.3" cy="862.2" r="6.21" fill="#0040ff"/>
<circle cx="258.3" cy="983.4" r="6.21" fill="#ff2d00"/>
<circle cx="380.3" cy="907.7" r="6.21" fill="#0084ff"/>
<circle cx="372.4" cy="881.9" r="6.21" fill="#ff6400"/>
<circle cx="503.1" cy="794.4" r="6.21" fill="#83ff73"/>
<circle cx="492.6" cy="799.4" r="6.21" fill="#a7ff50"/>
<circle cx="548.1" cy="741.0" r="6.21" fill="#29ffce"/>
<circle cx="501.9" cy="765.6" r="6.21" fill="#23ffd4"/>
<circle cx="446.7" cy="822.1" r="6.21" fill="#ebff0c"/>
<circle cx="819.3" cy="548.4" r="6.21" fill="#00009f"/>
<circle cx="516.1" cy="758.4" r="6.21" fill="#43ffb4"/>
<circle cx="409.7" cy="838.9" r="6.21" fill="#00d0ff"/>
<circle cx="395.9" cy="854.8" r="6.21" fill="#7aff7d"/>
<circle cx="367.4" cy="882.6" r="6.21" fill="#ffbd00"/>
<circle cx="316.3" cy="926.5" r="6.21" fill="#ff4e00"/>
<circle cx="793.2" cy="509.0" r="6.21" fill="#0000c8"/>
<circle cx="434.2" cy="838.6" r="6.21" fill="#ffd700"/>
<circle cx="765.4" cy="556.6" r="6.21" fill="#0024ff"/>
<circle cx="518.3" cy="783.8" r="6.21" fill="#56ffa0"/>
<circle cx="760.0" cy="592.0" r="6.21" fill="#0000bf"/>
<circle cx="436.6" cy="837.5" r="6.21" fill="#ffde00"/>
<circle cx="527.4" cy="745.9" r="6.21" fill="#23ffd4"/>
<circle cx="250.3" cy="999.8" r="6.21" fill="#90ff66"/>
<circle cx="472.7" cy="804.7" r="6.21" fill="#d4ff23"/>
<circle cx="283.9" cy="962.2" r="6.21" fill="#9f0000"/>
<circle cx="601.3" cy="703.4" r="6.21" fill="#00b8ff"/>
<circle cx="426.0" cy="862.9" r="6.21" fill="#6aff8d"/>
<circle cx="647.5" cy="679.1" r="6.21" fill="#0024ff"/>
<circle cx="791.2" cy="525.9" r="6.21" fill="#0000ed"/>
<circle cx="574.6" cy="711.7" r="6.21" fill="#00ccff"/>
<circle cx="290.9" cy="933.3" r="6.21" fill="#0048ff"/>
<circle cx="292.1" cy="963.9" r="6.21" fill="#ff9f00"/>
<circle cx="327.4" cy="945.5" r="6.21" fill="#0cf4eb"/>
<circle cx="498.7" cy="768.9" r="6.21" fill="#29ffce"/>
<circle cx="447.7" cy="825.8" r="6.21" fill="#feed00"/>
<circle cx="340.3" cy="927.8" r="6.21" fill="#f4f802"/>
<circle cx="355.8" cy="888.3" r="6.21" fill="#a7ff50"/>
<circle cx="213.6" cy="1001.4" r="6.21" fill="#0004ff"/>
<circle cx="776.9" cy="514.9" r="6.21" fill="#0000b2"/>
<circle cx="691.2" cy="698.0" r="6.21" fill="#00008d"/>
<circle cx="861.1" cy="424.5" r="6.21" fill="#000080"/>
<circle cx="505.3" cy="760.7" r="6.21" fill="#06ecf1"/>
<circle cx="323.1" cy="940.4" r="6.21" fill="#ffc800"/>
<circle cx="460.7" cy="820.9" r="6.21" fill="#deff19"/>
<circle cx="502.9" cy="771.4" r="6.21" fill="#63ff94"/>
<circle cx="240.9" cy="990.3" r="6.21" fill="#e7ff0f"/>
<circle cx="655.2" cy="704.9" r="6.21" fill="#0000b2"/>
<circle cx="230.3" cy="995.7" r="6.21" fill="#46ffb1"/>
<circle cx="600.7" cy="656.0" r="6.21" fill="#0000bf"/>
<circle cx="310.1" cy="937.5" r="6.21" fill="#890000"/>
<circle cx="500.7" cy="777.9" r="6.21" fill="#8aff6d"/>
<circle cx="554.7" cy="775.1" r="6.21" fill="#0004ff"/>
<circle cx="380.5" cy="866.1" r="6.21" fill="#5aff9d"/>
<circle cx="702.4" cy="602.1" r="6.21" fill="#000cff"/>
<circle cx="294.0" cy="956.3" r="6.21" fill="#b60000"/>
<circle cx="320.7" cy="941.9" r="6.21" fill="#ffbd00"/>
<circle cx="704.7" cy="580.2" r="6.21" fill="#0000b6"/>
<circle cx="365.7" cy="935.0" r="6.21" fill="#0000a4"/>
<circle cx="681.9" cy="649.6" r="6.21" fill="#0004ff"/>
<circle cx="504.3" cy="770.4" r="6.21" fill="#63ff94"/>
<circle cx="685.6" cy="635.3" r="6.21" fill="#0034ff"/>
<circle cx="356.8" cy="886.5" r="6.21" fill="#87ff70"/>
<circle cx="295.2" cy="928.5" r="6.21" fill="#002cff"/>
<circle cx="271.0" cy="969.6" r="6.21" fill="#df0000"/>
<circle cx="492.2" cy="798.6" r="6.21" fill="#aaff4d"/>
<circle cx="409.9" cy="867.0" r="6.21" fill="#ffe200"/>
<circle cx="508.1" cy="783.2" r="6.21" fill="#9aff5d"/>
<circle cx="302.9" cy="927.8" r="6.21" fill="#00e0fb"/>
<circle cx="265.3" cy="967.9" r="6.21" fill="#ffdb00"/>
<circle cx="421.2" cy="844.8" r="6.21" fill="#ffc100"/>
<circle cx="860.7" cy="476.4" r="6.21" fill="#0000bb"/>
<circle cx="457.9" cy="734.3" r="6.21" fill="#000080"/>
<circle cx="250.6" cy="970.4" r="6.21" fill="#0060ff"/>
<circle cx="440.8" cy="853.1" r="6.21" fill="#40ffb7"/>
<circle cx="483.0" cy="815.6" r="6.21" fill="#60ff97"/>
<circle cx="275.2" cy="977.2" r="6.21" fill="#ffae00"/>
<circle cx="602.9" cy="710.6" r="6.21" fill="#00a8ff"/>
<circle cx="601.4" cy="760.0" r="6.21" fill="#00009b"/>
<circle cx="610.9" cy="729.6" r="6.21" fill="#0000d1"/>
<circle cx="441.4" cy="829.2" r="6.21" fill="#ffe600"/>
<circle cx="550.6" cy="768.5" r="6.21" fill="#0060ff"/>
<circle cx="318.1" cy="947.3" r="6.21" fill="#beff39"/>
<circle cx="431.5" cy="837.6" r="6.21" fill="#ffd000"/>
<circle cx="615.4" cy="717.1" r="6.21" fill="#0000f6"/>
<circle cx="686.0" cy="667.3" r="6.21" fill="#0000ad"/>
<circle cx="470.8" cy="809.0" r="6.21" fill="#d7ff1f"/>
<circle cx="263.4" cy="976.9" r="6.21" fill="#ff1300"/>
<circle cx="523.7" cy="742.3" r="6.21" fill="#00b0ff"/>
<circle cx="669.7" cy="621.3" r="6.21" fill="#0000ff"/>
<circle cx="446.4" cy="846.1" r="6.21" fill="#6dff8a"/>
<circle cx="233.3" cy="989.7" r="6.21" fill="#00c8ff"/>
<circle cx="420.1" cy="859.6" r="6.21" fill="#eeff09"/>
<circle cx="417.6" cy="841.8" r="6.21" fill="#deff19"/>
<circle cx="450.1" cy="819.9" r="6.21" fill="#ebff0c"/>
<circle cx="469.3" cy="823.2" r="6.21" fill="#9aff5d"/>
<circle cx="271.5" cy="953.5" r="6.21" fill="#00a0ff"/>
<circle cx="321.7" cy="915.1" r="6.21" fill="#73ff83"/>
<circle cx="631.7" cy="664.6" r="6.21" fill="#0060ff"/>
<circle cx="218.4" cy="1015.6" r="6.21" fill="#9dff5a"/>
<circle cx="374.5" cy="887.3" r="6.21" fill="#ff3b00"/>
<circle cx="773.7" cy="551.3" r="6.21" fill="#0020ff"/>
<circle cx="584.7" cy="681.9" r="6.21" fill="#0004ff"/>
<circle cx="609.2" cy="707.9" r="6.21" fill="#0084ff"/>
<circle cx="611.5" cy="724.4" r="6.21" fill="#0000e8"/>
<circle cx="613.2" cy="644.3" r="6.21" fill="#0000b6"/>
<circle cx="516.8" cy="681.8" r="6.21" fill="#000084"/>
<circle cx="220.8" cy="1014.3" r="6.21" fill="#adff49"/>
<circle cx="596.0" cy="753.6" r="6.21" fill="#0000b2"/>
<circle cx="399.0" cy="836.4" r="6.21" fill="#0000ff"/>
<circle cx="788.9" cy="618.3" r="6.21" fill="#000084"/>
<circle cx="460.8" cy="794.3" r="6.21" fill="#0098ff"/>
<circle cx="448.7" cy="843.3" r="6.21" fill="#7dff7a"/>
<circle cx="428.1" cy="826.4" r="6.21" fill="#29ffce"/>
<circle cx="358.5" cy="908.3" r="6.21" fill="#ff8200"/>
<circle cx="298.9" cy="954.6" r="6.21" fill="#fa0f00"/>
<circle cx="363.4" cy="893.7" r="6.21" fill="#ff1600"/>
<circle cx="350.8" cy="891.3" r="6.21" fill="#80ff77"/>
<circle cx="489.4" cy="815.3" r="6.21" fill="#09f0ee"/>
<circle cx="508.6" cy="801.4" r="6.21" fill="#00b4ff"/>
<circle cx="670.7" cy="633.0" r="6.21" fill="#0040ff"/>
<circle cx="426.3" cy="832.8" r="6.21" fill="#a4ff53"/>
<circle cx="493.5" cy="799.1" r="6.21" fill="#a4ff53"/>
<circle cx="760.1" cy="578.4" r="6.21" fill="#0000ff"/>
<circle cx="444.7" cy="862.0" r="6.21" fill="#003cff"/>
<circle cx="565.4" cy="740.6" r="6.21" fill="#2cffca"/>
<circle cx="568.2" cy="738.5" r="6.21" fill="#23ffd4"/>
<circle cx="561.4" cy="768.5" r="6.21" fill="#0008ff"/>
<circle cx="477.1" cy="741.8" r="6.21" fill="#00008d"/>
<circle cx="353.5" cy="907.9" r="6.21" fill="#ff2200"/>
<circle cx="760.9" cy="573.0" r="6.21" fill="#0018ff"/>
<circle cx="396.5" cy="842.8" r="6.21" fill="#002cff"/>
<circle cx="353.8" cy="888.9" r="6.21" fill="#80ff77"/>
<circle cx="428.3" cy="852.3" r="6.21" fill="#ebff0c"/>
<circle cx="658.1" cy="652.7" r="6.21" fill="#0068ff"/>
<circle cx="543.6" cy="737.9" r="6.21" fill="#1fffd7"/>
<circle cx="353.1" cy="894.5" r="6.21" fill="#ffab00"/>
<circle cx="362.5" cy="895.1" r="6.21" fill="#ff1300"/>
<circle cx="475.0" cy="796.0" r="6.21" fill="#9dff5a"/>
<circle cx="235.0" cy="974.6" r="6.21" fill="#0000bf"/>
<circle cx="588.1" cy="722.2" r="6.21" fill="#00d4ff"/>
<circle cx="491.0" cy="815.5" r="6.21" fill="#00d0ff"/>
<circle cx="390.4" cy="905.2" r="6.21" fill="#0020ff"/>
<circle cx="326.7" cy="934.6" r="6.21" fill="#ff6c00"/>
<circle cx="429.4" cy="845.4" r="6.21" fill="#ffd700"/>
<circle cx="886.4" cy="581.4" r="6.21" fill="#000080"/>
<circle cx="484.9" cy="807.6" r="6.21" fill="#a4ff53"/>
<circle cx="814.7" cy="493.7" r="6.21" fill="#0000cd"/>
<circle cx="314.2" cy="951.9" r="6.21" fill="#8dff6a"/>
<circle cx="581.4" cy="726.1" r="6.21" fill="#09f0ee"/>
<circle cx="631.1" cy="722.0" r="6.21" fill="#0000bb"/>
<circle cx="715.9" cy="606.6" r="6.21" fill="#0038ff"/>
<circle cx="408.3" cy="890.5" r="6.21" fill="#0034ff"/>
<circle cx="365.7" cy="898.5" r="6.21" fill="#ff4700"/>
<circle cx="801.4" cy="534.5" r="6.21" fill="#0004ff"/>
<circle cx="555.8" cy="743.5" r="6.21" fill="#46ffb1"/>
<circle cx="235.1" cy="1000.7" r="6.21" fill="#ffd000"/>
<circle cx="737.3" cy="581.3" r="6.21" fill="#0038ff"/>
<circle cx="366.6" cy="893.4" r="6.21" fill="#ff2200"/>
<circle cx="560.7" cy="736.9" r="6.21" fill="#33ffc4"/>
<circle cx="412.8" cy="856.7" r="6.21" fill="#ffab00"/>
<circle cx="325.7" cy="930.4" r="6.21" fill="#c80000"/>
<circle cx="287.3" cy="951.6" r="6.21" fill="#ff4300"/>
<circle cx="468.6" cy="774.0" r="6.21" fill="#0000f6"/>
<circle cx="279.3" cy="957.1" r="6.21" fill="#ff8600"/>
<circle cx="472.5" cy="821.9" r="6.21" fill="#8aff6d"/>
<circle cx="377.8" cy="880.2" r="6.21" fill="#ff4a00"/>
<circle cx="451.1" cy="797.6" r="6.21" fill="#003cff"/>
<circle cx="387.4" cy="906.1" r="6.21" fill="#0038ff"/>
<circle cx="328.2" cy="924.4" r="6.21" fill="#960000"/>
<circle cx="307.7" cy="932.4" r="6.21" fill="#ff8d00"/>
<circle cx="607.4" cy="671.7" r="6.21" fill="#004cff"/>
<circle cx="309.3" cy="966.1" r="6.21" fill="#0024ff"/>
<circle cx="507.8" cy="797.6" r="6.21" fill="#19ffde"/>
<circle cx="308.6" cy="936.7" r="6.21" fill="#b20000"/>
<circle cx="373.7" cy="898.8" r="6.21" fill="#ffd700"/>
<circle cx="273.7" cy="976.9" r="6.21" fill="#ff7a00"/>
<circle cx="298.2" cy="902.9" r="6.21" fill="#000089"/>
<circle cx="794.8" cy="558.1" r="6.21" fill="#0000c8"/>
<circle cx="598.6" cy="715.9" r="6.21" fill="#00a4ff"/>
<circle cx="211.1" cy="1017.6" r="6.21" fill="#53ffa4"/>
<circle cx="227.0" cy="1002.6" r="6.21" fill="#a4ff53"/>
<circle cx="281.6" cy="945.9" r="6.21" fill="#00d0ff"/>
<circle cx="646.6" cy="658.9" r="6.21" fill="#0074ff"/>
<circle cx="244.0" cy="992.0" r="6.21" fill="#ff9400"/>
<circle cx="340.9" cy="912.5" r="6.21" fill="#b60000"/>
<circle cx="314.3" cy="935.5" r="6.21" fill="#800000"/>
<circle cx="496.0" cy="812.8" r="6.21" fill="#00b4ff"/>
<circle cx="721.0" cy="593.1" r="6.21" fill="#0038ff"/>
<circle cx="606.1" cy="702.7" r="6.21" fill="#00acff"/>
<circle cx="425.4" cy="831.5" r="6.21" fill="#77ff80"/>
<circle cx="442.4" cy="808.5" r="6.21" fill="#007cff"/>
<circle cx="235.6" cy="1009.8" r="6.21" fill="#83ff73"/>
<circle cx="418.0" cy="843.9" r="6.21" fill="#ffe200"/>
<circle cx="247.7" cy="989.5" r="6.21" fill="#ff7300"/>
<circle cx="367.2" cy="898.7" r="6.21" fill="#ff6000"/>
<circle cx="484.4" cy="828.4" r="6.21" fill="#0060ff"/>
<circle cx="272.5" cy="974.6" r="6.21" fill="#ff1600"/>
<circle cx="604.2" cy="678.9" r="6.21" fill="#006cff"/>
<circle cx="787.9" cy="552.6" r="6.21" fill="#0004ff"/>
<circle cx="239.3" cy="998.7" r="6.21" fill="#ffae00"/>
<circle cx="254.5" cy="999.9" r="6.21" fill="#33ffc4"/>
<circle cx="371.3" cy="880.1" r="6.21" fill="#ffab00"/>
<circle cx="438.9" cy="831.5" r="6.21" fill="#ffde00"/>
<circle cx="592.9" cy="747.0" r="6.21" fill="#0000d1"/>
<circle cx="325.1" cy="928.5" r="6.21" fill="#9b0000"/>
<circle cx="265.9" cy="972.8" r="6.21" fill="#ff2200"/>
<circle cx="263.6" cy="964.3" r="6.21" fill="#40ffb7"/>
<circle cx="389.1" cy="880.4" r="6.21" fill="#ff8d00"/>
<circle cx="302.3" cy="948.4" r="6.21" fill="#960000"/>
<circle cx="394.5" cy="877.0" r="6.21" fill="#ffa700"/>
<circle cx="754.9" cy="570.7" r="6.21" fill="#0030ff"/>
<circle cx="517.3" cy="745.1" r="6.21" fill="#0080ff"/>
<circle cx="795.7" cy="528.2" r="6.21" fill="#0000ff"/>
<circle cx="535.5" cy="767.3" r="6.21" fill="#56ffa0"/>
<circle cx="567.1" cy="692.5" r="6.21" fill="#0000ff"/>
<circle cx="314.6" cy="911.8" r="6.21" fill="#002cff"/>
<circle cx="388.7" cy="865.4" r="6.21" fill="#ffdb00"/>
<circle cx="459.0" cy="787.6" r="6.21" fill="#0014ff"/>
<circle cx="535.2" cy="738.3" r="6.21" fill="#13fce4"/>
<circle cx="269.9" cy="975.8" r="6.21" fill="#f60b00"/>
<circle cx="263.8" cy="981.1" r="6.21" fill="#ff2d00"/>
<circle cx="423.8" cy="831.0" r="6.21" fill="#46ffb1"/>
<circle cx="701.7" cy="623.0" r="6.21" fill="#0024ff"/>
<circle cx="445.3" cy="812.5" r="6.21" fill="#29ffce"/>
<circle cx="388.3" cy="904.9" r="6.21" fill="#0040ff"/>
<circle cx="248.5" cy="988.7" r="6.21" fill="#ff6f00"/>
<circle cx="564.6" cy="772.9" r="6.21" fill="#0000d6"/>
<circle cx="284.5" cy="940.2" r="6.21" fill="#0068ff"/>
<circle cx="564.0" cy="739.8" r="6.21" fill="#36ffc1"/>
<circle cx="270.1" cy="987.0" r="6.21" fill="#63ff94"/>
<circle cx="504.1" cy="777.1" r="6.21" fill="#8dff6a"/>
<circle cx="234.5" cy="1008.2" r="6.21" fill="#c1ff36"/>
<circle cx="282.9" cy="956.7" r="6.21" fill="#ff1a00"/>
<circle cx="420.6" cy="843.4" r="6.21" fill="#ffd000"/>
<circle cx="290.5" cy="951.9" r="6.21" fill="#c40000"/>
<circle cx="519.7" cy="780.9" r="6.21" fill="#6aff8d"/>
<circle cx="819.2" cy="523.3" r="6.21" fill="#0000fa"/>
<circle cx="590.0" cy="703.0" r="6.21" fill="#00b4ff"/>
<circle cx="583.4" cy="697.1" r="6.21" fill="#009cff"/>
<circle cx="489.2" cy="791.8" r="6.21" fill="#b4ff43"/>
<circle cx="458.3" cy="843.1" r="6.21" fill="#00d4ff"/>
<circle cx="267.2" cy="988.8" r="6.21" fill="#6dff8a"/>
<circle cx="748.9" cy="533.2" r="6.21" fill="#0000ad"/>
<circle cx="419.8" cy="860.8" r="6.21" fill="#e4ff13"/>
<circle cx="542.8" cy="754.9" r="6.21" fill="#63ff94"/>
<circle cx="411.1" cy="877.1" r="6.21" fill="#3cffba"/>
<circle cx="828.6" cy="487.6" r="6.21" fill="#0000cd"/>
<circle cx="545.7" cy="752.8" r="6.21" fill="#5dff9a"/>
<circle cx="484.1" cy="832.3" r="6.21" fill="#0024ff"/>
<circle cx="346.4" cy="952.0" r="6.21" fill="#000096"/>
<circle cx="594.5" cy="697.6" r="6.21" fill="#00a8ff"/>
<circle cx="786.9" cy="555.6" r="6.21" fill="#0000ff"/>
<circle cx="398.2" cy="866.8" r="6.21" fill="#ff7e00"/>
<circle cx="243.6" cy="998.6" r="6.21" fill="#ffbd00"/>
<circle cx="735.0" cy="600.1" r="6.21" fill="#0000ff"/>
<circle cx="383.1" cy="868.6" r="6.21" fill="#f1fc06"/>
<circle cx="578.9" cy="780.4" r="6.21" fill="#000092"/>
<circle cx="573.5" cy="695.9" r="6.21" fill="#0040ff"/>
<circle cx="372.8" cy="898.4" r="6.21" fill="#ffb900"/>
<circle cx="756.7" cy="581.8" r="6.21" fill="#0000ff"/>
<circle cx="331.2" cy="921.1" r="6.21" fill="#9f0000"/>
<circle cx="393.5" cy="861.3" r="6.21" fill="#ffe600"/>
<circle cx="691.4" cy="697.9" r="6.21" fill="#00008d"/>
<circle cx="453.4" cy="855.7" r="6.21" fill="#0034ff"/>
<circle cx="734.4" cy="598.4" r="6.21" fill="#000cff"/>
<circle cx="533.7" cy="799.2" r="6.21" fill="#0000df"/>
<circle cx="497.6" cy="768.9" r="6.21" fill="#1fffd7"/>
<circle cx="326.8" cy="921.5" r="6.21" fill="#c40000"/>
<circle cx="415.8" cy="845.5" r="6.21" fill="#ffde00"/>
<circle cx="411.6" cy="883.4" r="6.21" fill="#008cff"/>
<circle cx="300.1" cy="930.3" r="6.21" fill="#00e4f8"/>
<circle cx="312.7" cy="943.5" r="6.21" fill="#ff1300"/>
<circle cx="483.4" cy="811.1" r="6.21" fill="#94ff63"/>
<circle cx="550.6" cy="759.4" r="6.21" fill="#00e0fb"/>
<circle cx="360.4" cy="920.2" r="6.21" fill="#00d8ff"/>
<circle cx="251.5" cy="983.5" r="6.21" fill="#ff8d00"/>
<circle cx="663.1" cy="622.7" r="6.21" fill="#0000ff"/>
<circle cx="486.1" cy="785.1" r="6.21" fill="#7aff7d"/>
<circle cx="278.3" cy="965.6" r="6.21" fill="#ad0000"/>
<circle cx="655.0" cy="704.3" r="6.21" fill="#0000b2"/>
<circle cx="757.5" cy="557.9" r="6.21" fill="#0008ff"/>
<circle cx="351.0" cy="913.4" r="6.21" fill="#ff5d00"/>
<circle cx="251.9" cy="979.3" r="6.21" fill="#e4ff13"/>
<circle cx="355.3" cy="905.0" r="6.21" fill="#ff1300"/>
<circle cx="332.6" cy="913.4" r="6.21" fill="#ff4700"/>
<circle cx="445.8" cy="823.2" r="6.21" fill="#eeff09"/>
<circle cx="383.5" cy="873.8" r="6.21" fill="#ff6c00"/>
<circle cx="447.2" cy="832.3" r="6.21" fill="#eeff09"/>
<circle cx="402.3" cy="884.5" r="6.21" fill="#33ffc4"/>
<circle cx="777.2" cy="510.3" r="6.21" fill="#0000a8"/>
<circle cx="473.8" cy="794.8" r="6.21" fill="#83ff73"/>
<circle cx="310.9" cy="934.3" r="6.21" fill="#bf0000"/>
<circle cx="570.3" cy="745.8" r="6.21" fill="#0088ff"/>
<circle cx="493.6" cy="794.0" r="6.21" fill="#b1ff46"/>
<circle cx="606.6" cy="669.4" r="6.21" fill="#0030ff"/>
<circle cx="655.2" cy="653.2" r="6.21" fill="#0070ff"/>
<circle cx="538.6" cy="762.6" r="6.21" fill="#60ff97"/>
<circle cx="405.7" cy="847.5" r="6.21" fill="#87ff70"/>
<circle cx="474.4" cy="820.7" r="6.21" fill="#87ff70"/>
<circle cx="266.6" cy="986.7" r="6.21" fill="#c4ff33"/>
<circle cx="410.5" cy="858.3" r="6.21" fill="#ffa300"/>
<circle cx="584.4" cy="730.2" r="6.21" fill="#00a8ff"/>
<circle cx="308.9" cy="941.7" r="6.21" fill="#840000"/>
<circle cx="918.9" cy="392.8" r="6.21" fill="#000080"/>
<circle cx="333.6" cy="899.5" r="6.21" fill="#0094ff"/>
<circle cx="495.9" cy="791.6" r="6.21" fill="#adff49"/>
<circle cx="709.9" cy="624.3" r="6.21" fill="#0000ff"/>
<circle cx="340.7" cy="909.6" r="6.21" fill="#e40000"/>
<circle cx="484.7" cy="835.8" r="6.21" fill="#0000ff"/>
<circle cx="602.4" cy="723.2" r="6.21" fill="#001cff"/>
<circle cx="519.5" cy="800.4" r="6.21" fill="#004cff"/>
<circle cx="390.3" cy="864.4" r="6.21" fill="#ffd300"/>
<circle cx="488.5" cy="821.3" r="6.21" fill="#0098ff"/>
<circle cx="508.2" cy="681.8" r="6.21" fill="#000084"/>
<circle cx="556.4" cy="718.2" r="6.21" fill="#00c0ff"/>
<circle cx="557.5" cy="716.4" r="6.21" fill="#00b4ff"/>
<circle cx="297.0" cy="966.6" r="6.21" fill="#63ff94"/>
<circle cx="469.2" cy="811.2" r="6.21" fill="#dbff1c"/>
<circle cx="423.6" cy="876.0" r="6.21" fill="#0068ff"/>
<circle cx="343.2" cy="902.5" r="6.21" fill="#ffa300"/>
<circle cx="303.5" cy="950.8" r="6.21" fill="#fa0f00"/>
<circle cx="532.7" cy="763.1" r="6.21" fill="#73ff83"/>
<circle cx="319.3" cy="938.0" r="6.21" fill="#ff1600"/>
<circle cx="615.4" cy="716.0" r="6.21" fill="#0000ff"/>
<circle cx="489.0" cy="778.3" r="6.21" fill="#40ffb7"/>
<circle cx="231.3" cy="1011.8" r="6.21" fill="#94ff63"/>
<circle cx="260.5" cy="993.1" r="6.21" fill="#83ff73"/>
<circle cx="415.0" cy="908.0" r="6.21" fill="#00008d"/>
<circle cx="579.3" cy="702.0" r="6.21" fill="#00b0ff"/>
<circle cx="481.3" cy="804.4" r="6.21" fill="#c1ff36"/>
<circle cx="796.7" cy="550.0" r="6.21" fill="#0000f1"/>
<circle cx="718.0" cy="609.0" r="6.21" fill="#0020ff"/>
<circle cx="541.2" cy="723.7" r="6.21" fill="#0064ff"/>
<circle cx="477.6" cy="801.2" r="6.21" fill="#caff2c"/>
<circle cx="423.2" cy="838.7" r="6.21" fill="#f1fc06"/>
<circle cx="503.5" cy="754.2" r="6.21" fill="#0054ff"/>
<circle cx="421.7" cy="860.2" r="6.21" fill="#d4ff23"/>
<circle cx="334.0" cy="920.1" r="6.21" fill="#a80000"/>
<circle cx="505.3" cy="781.3" r="6.21" fill="#9dff5a"/>
<circle cx="538.9" cy="760.0" r="6.21" fill="#6aff8d"/>
<circle cx="179.3" cy="1044.3" r="6.21" fill="#0054ff"/>
<circle cx="619.8" cy="657.8" r="6.21" fill="#001cff"/>
<circle cx="302.7" cy="953.8" r="6.21" fill="#ff5d00"/>
<circle cx="518.5" cy="810.0" r="6.21" fill="#0000f1"/>
<circle cx="240.7" cy="989.8" r="6.21" fill="#d4ff23"/>
<circle cx="576.8" cy="744.6" r="6.21" fill="#0048ff"/>
<circle cx="322.0" cy="907.3" r="6.21" fill="#0058ff"/>
<circle cx="478.9" cy="786.3" r="6.21" fill="#40ffb7"/>
<circle cx="349.0" cy="892.1" r="6.21" fill="#66ff90"/>
<circle cx="201.3" cy="1034.1" r="6.21" fill="#00dcfe"/>
<circle cx="363.0" cy="911.7" r="6.21" fill="#adff49"/>
<circle cx="348.3" cy="926.2" r="6.21" fill="#60ff97"/>
<circle cx="364.6" cy="904.2" r="6.21" fill="#ff9c00"/>
<circle cx="471.7" cy="821.8" r="6.21" fill="#94ff63"/>
<circle cx="227.8" cy="1006.1" r="6.21" fill="#e1ff16"/>
<circle cx="546.0" cy="716.3" r="6.21" fill="#0034ff"/>
<circle cx="530.7" cy="792.3" r="6.21" fill="#0038ff"/>
<circle cx="491.5" cy="776.7" r="6.21" fill="#46ffb1"/>
<circle cx="632.7" cy="688.9" r="6.21" fill="#0050ff"/>
<circle cx="494.0" cy="777.2" r="6.21" fill="#60ff97"/>
<circle cx="616.4" cy="764.3" r="6.21" fill="#000089"/>
<circle cx="280.7" cy="960.1" r="6.21" fill="#da0000"/>
<circle cx="515.7" cy="764.4" r="6.21" fill="#60ff97"/>
<circle cx="680.7" cy="679.6" r="6.21" fill="#0000b2"/>
<circle cx="812.8" cy="533.8" r="6.21" fill="#0000f1"/>
<circle cx="504.7" cy="770.4" r="6.21" fill="#63ff94"/>
<circle cx="477.8" cy="796.9" r="6.21" fill="#b7ff40"/>
<circle cx="483.6" cy="758.9" r="6.21" fill="#0000ed"/>
<circle cx="482.0" cy="767.6" r="6.21" fill="#0014ff"/>
<circle cx="629.3" cy="675.0" r="6.21" fill="#008cff"/>
<circle cx="453.0" cy="828.0" r="6.21" fill="#e4ff13"/>
<circle cx="376.3" cy="884.2" r="6.21" fill="#ff3b00"/>
<circle cx="246.5" cy="993.8" r="6.21" fill="#ff7e00"/>
<circle cx="552.7" cy="734.6" r="6.21" fill="#16ffe1"/>
<circle cx="357.7" cy="898.0" r="6.21" fill="#f10800"/>
<circle cx="236.8" cy="988.4" r="6.21" fill="#26ffd1"/>
<circle cx="260.1" cy="983.0" r="6.21" fill="#ff2d00"/>
<circle cx="582.0" cy="679.6" r="6.21" fill="#0000f1"/>
<circle cx="725.3" cy="583.1" r="6.21" fill="#0008ff"/>
<circle cx="479.0" cy="810.9" r="6.21" fill="#b4ff43"/>
<circle cx="397.5" cy="867.1" r="6.21" fill="#ff7a00"/>
<circle cx="298.0" cy="944.5" r="6.21" fill="#da0000"/>
<circle cx="558.6" cy="752.0" r="6.21" fill="#00e0fb"/>
<circle cx="580.7" cy="706.6" r="6.21" fill="#00bcff"/>
<circle cx="551.0" cy="704.3" r="6.21" fill="#0000ff"/>
<circle cx="693.7" cy="597.8" r="6.21" fill="#0000ed"/>
<circle cx="570.8" cy="797.5" r="6.21" fill="#000084"/>
<circle cx="362.8" cy="909.4" r="6.21" fill="#f1fc06"/>
<circle cx="358.7" cy="897.1" r="6.21" fill="#f60b00"/>
<circle cx="309.1" cy="936.1" r="6.21" fill="#b60000"/>
<circle cx="290.8" cy="972.7" r="6.21" fill="#39ffbe"/>
<circle cx="560.3" cy="733.4" r="6.21" fill="#1cffdb"/>
<circle cx="233.9" cy="999.8" r="6.21" fill="#ffe600"/>
<circle cx="406.6" cy="872.1" r="6.21" fill="#eeff09"/>
<circle cx="342.0" cy="907.6" r="6.21" fill="#ff1600"/>
<circle cx="401.0" cy="874.4" r="6.21" fill="#ffd300"/>
<circle cx="575.2" cy="726.0" r="6.21" fill="#19ffde"/>
<circle cx="332.5" cy="926.7" r="6.21" fill="#ff1a00"/>
<circle cx="355.1" cy="888.4" r="6.21" fill="#97ff60"/>
<circle cx="636.3" cy="644.9" r="6.21" fill="#0014ff"/>
<circle cx="515.2" cy="769.0" r="6.21" fill="#77ff80"/>
<circle cx="654.7" cy="634.9" r="6.21" fill="#0014ff"/>
<circle cx="582.9" cy="737.7" r="6.21" fill="#0050ff"/>
<circle cx="386.7" cy="869.3" r="6.21" fill="#ff9800"/>
<circle cx="353.6" cy="893.8" r="6.21" fill="#ffb200"/>
<circle cx="384.3" cy="870.2" r="6.21" fill="#ffae00"/>
<circle cx="473.1" cy="787.8" r="6.21" fill="#09f0ee"/>
<circle cx="523.3" cy="776.2" r="6.21" fill="#73ff83"/>
<circle cx="748.8" cy="615.7" r="6.21" fill="#0000a8"/>
<circle cx="456.8" cy="810.7" r="6.21" fill="#b4ff43"/>
<circle cx="371.7" cy="886.8" r="6.21" fill="#ff2d00"/>
<circle cx="272.2" cy="962.0" r="6.21" fill="#ffc800"/>
<circle cx="747.9" cy="572.1" r="6.21" fill="#0030ff"/>
<circle cx="318.5" cy="928.8" r="6.21" fill="#ad0000"/>
<circle cx="360.0" cy="909.2" r="6.21" fill="#ffb600"/>
<circle cx="255.3" cy="980.3" r="6.21" fill="#ff7700"/>
<circle cx="430.9" cy="829.2" r="6.21" fill="#a4ff53"/>
<circle cx="632.5" cy="736.4" r="6.21" fill="#00009b"/>
<circle cx="416.6" cy="852.4" r="6.21" fill="#ffae00"/>
<circle cx="347.7" cy="919.5" r="6.21" fill="#ffb200"/>
<circle cx="522.9" cy="749.1" r="6.21" fill="#23ffd4"/>
<circle cx="695.6" cy="631.5" r="6.21" fill="#0018ff"/>
<circle cx="524.9" cy="742.0" r="6.21" fill="#00bcff"/>
<circle cx="622.6" cy="675.7" r="6.21" fill="#0080ff"/>
<circle cx="470.0" cy="775.4" r="6.21" fill="#0000ff"/>
<circle cx="468.6" cy="841.0" r="6.21" fill="#0064ff"/>
<circle cx="239.8" cy="1004.5" r="6.21" fill="#d1ff26"/>
<circle cx="733.6" cy="637.0" r="6.21" fill="#00009b"/>
<circle cx="467.1" cy="842.9" r="6.21" fill="#0058ff"/>
<circle cx="386.5" cy="872.0" r="6.21" fill="#ff6c00"/>
<circle cx="617.7" cy="671.2" r="6.21" fill="#0060ff"/>
<circle cx="599.3" cy="643.2" r="6.21" fill="#00008d"/>
<circle cx="283.3" cy="947.6" r="6.21" fill="#5dff9a"/>
<circle cx="402.7" cy="839.3" r="6.21" fill="#004cff"/>
<circle cx="436.0" cy="823.8" r="6.21" fill="#83ff73"/>
<circle cx="766.6" cy="550.6" r="6.21" fill="#0004ff"/>
<circle cx="320.3" cy="935.0" r="6.21" fill="#c40000"/>
<circle cx="327.8" cy="881.4" r="6.21" fill="#00008d"/>
<circle cx="383.3" cy="887.3" r="6.21" fill="#ff9c00"/>
<circle cx="279.9" cy="981.1" r="6.21" fill="#36ffc1"/>
<circle cx="773.6" cy="536.4" r="6.21" fill="#0000e3"/>
<circle cx="330.6" cy="925.1" r="6.21" fill="#b60000"/>
<circle cx="566.2" cy="706.5" r="6.21" fill="#0084ff"/>
<circle cx="301.7" cy="961.4" r="6.21" fill="#9aff5d"/>
<circle cx="300.7" cy="955.8" r="6.21" fill="#ff6c00"/>
<circle cx="437.6" cy="818.8" r="6.21" fill="#29ffce"/>
<circle cx="324.6" cy="940.9" r="6.21" fill="#e7ff0f"/>
<circle cx="841.4" cy="490.4" r="6.21" fill="#0000d1"/>
<circle cx="590.0" cy="703.4" r="6.21" fill="#00b4ff"/>
<circle cx="342.4" cy="925.7" r="6.21" fill="#ffea00"/>
<circle cx="769.2" cy="565.1" r="6.21" fill="#0018ff"/>
<circle cx="700.8" cy="614.2" r="6.21" fill="#004cff"/>
<circle cx="848.4" cy="473.0" r="6.21" fill="#0000bb"/>
<circle cx="361.7" cy="912.8" r="6.21" fill="#b1ff46"/>
<circle cx="584.8" cy="725.4" r="6.21" fill="#00dcfe"/>
<circle cx="736.4" cy="547.0" r="6.21" fill="#0000b2"/>
<circle cx="478.1" cy="811.8" r="6.21" fill="#b4ff43"/>
<circle cx="383.0" cy="870.7" r="6.21" fill="#ffbd00"/>
<circle cx="412.1" cy="845.0" r="6.21" fill="#caff2c"/>
<circle cx="367.0" cy="897.1" r="6.21" fill="#ff4700"/>
<circle cx="226.3" cy="993.3" r="6.21" fill="#0068ff"/>
<circle cx="688.2" cy="648.1" r="6.21" fill="#0000f1"/>
<circle cx="298.6" cy="963.1" r="6.21" fill="#b1ff46"/>
<circle cx="509.0" cy="798.9" r="6.21" fill="#00d8ff"/>
<circle cx="377.6" cy="881.0" r="6.21" fill="#ff4300"/>
<circle cx="529.4" cy="753.5" r="6.21" fill="#46ffb1"/>
<circle cx="299.0" cy="934.9" r="6.21" fill="#83ff73"/>
<circle cx="549.7" cy="753.4" r="6.21" fill="#4dffaa"/>
<circle cx="356.3" cy="899.3" r="6.21" fill="#e80000"/>
<circle cx="618.2" cy="662.8" r="6.21" fill="#003cff"/>
<circle cx="315.8" cy="934.4" r="6.21" fill="#840000"/>
<circle cx="565.1" cy="709.8" r="6.21" fill="#00a8ff"/>
<circle cx="329.8" cy="916.1" r="6.21" fill="#ff3800"/>
<circle cx="346.2" cy="896.8" r="6.21" fill="#c1ff36"/>
<circle cx="476.4" cy="792.5" r="6.21" fill="#7dff7a"/>
<circle cx="602.1" cy="710.9" r="6.21" fill="#00acff"/>
<circle cx="545.4" cy="747.0" r="6.21" fill="#43ffb4"/>
<circle cx="408.6" cy="911.4" r="6.21" fill="#00008d"/>
<circle cx="362.1" cy="886.5" r="6.21" fill="#ffc800"/>
<circle cx="541.2" cy="727.8" r="6.21" fill="#00a4ff"/>
<circle cx="433.1" cy="825.5" r="6.21" fill="#77ff80"/>
<circle cx="224.1" cy="1029.9" r="6.21" fill="#0018ff"/>
<circle cx="504.6" cy="780.3" r="6.21" fill="#9aff5d"/>
<circle cx="304.8" cy="934.5" r="6.21" fill="#ff9c00"/>
<circle cx="562.5" cy="734.0" r="6.21" fill="#26ffd1"/>
<circle cx="424.3" cy="849.9" r="6.21" fill="#ffd000"/>
<circle cx="443.9" cy="782.5" r="6.21" fill="#00009b"/>
<circle cx="258.6" cy="971.5" r="6.21" fill="#a7ff50"/>
<circle cx="250.0" cy="966.9" r="6.21" fill="#0008ff"/>
<circle cx="324.0" cy="922.9" r="6.21" fill="#da0000"/>
<circle cx="949.6" cy="391.5" r="6.21" fill="#000080"/>
<circle cx="635.7" cy="663.8" r="6.21" fill="#006cff"/>
<circle cx="754.0" cy="595.4" r="6.21" fill="#0000c4"/>
<circle cx="368.5" cy="906.8" r="6.21" fill="#baff3c"/>
<circle cx="280.0" cy="953.0" r="6.21" fill="#c4ff33"/>
<circle cx="427.7" cy="852.9" r="6.21" fill="#ebff0c"/>
<circle cx="531.0" cy="794.8" r="6.21" fill="#0014ff"/>
<circle cx="301.4" cy="940.9" r="6.21" fill="#f60b00"/>
<circle cx="678.5" cy="624.8" r="6.21" fill="#002cff"/>
<circle cx="519.3" cy="751.0" r="6.21" fill="#19ffde"/>
<circle cx="381.1" cy="894.8" r="6.21" fill="#e1ff16"/>
<circle cx="326.3" cy="910.8" r="6.21" fill="#60ff97"/>
<circle cx="588.2" cy="717.5" r="6.21" fill="#00e0fb"/>
<circle cx="586.6" cy="693.9" r="6.21" fill="#0094ff"/>
<circle cx="477.4" cy="834.5" r="6.21" fill="#0058ff"/>
<circle cx="222.1" cy="1010.5" r="6.21" fill="#b4ff43"/>
<circle cx="778.6" cy="560.8" r="6.21" fill="#0008ff"/>
<circle cx="479.1" cy="762.5" r="6.21" fill="#0000e8"/>
<circle cx="722.7" cy="579.1" r="6.21" fill="#0000f1"/>
<circle cx="801.8" cy="554.6" r="6.21" fill="#0000bb"/>
<circle cx="455.0" cy="860.6" r="6.21" fill="#0000e8"/>
<circle cx="500.5" cy="763.0" r="6.21" fill="#00c8ff"/>
<circle cx="380.0" cy="887.2" r="6.21" fill="#ff7300"/>
<circle cx="255.2" cy="988.2" r="6.21" fill="#ff5d00"/>
<circle cx="255.4" cy="972.1" r="6.21" fill="#4dffaa"/>
<circle cx="523.7" cy="796.4" r="6.21" fill="#0050ff"/>
<circle cx="569.2" cy="740.6" r="6.21" fill="#09f0ee"/>
<circle cx="328.0" cy="933.9" r="6.21" fill="#ff7700"/>
<circle cx="259.3" cy="978.7" r="6.21" fill="#ff3b00"/>
<circle cx="576.9" cy="754.2" r="6.21" fill="#0004ff"/>
<circle cx="666.5" cy="644.6" r="6.21" fill="#0064ff"/>
<circle cx="436.5" cy="810.1" r="6.21" fill="#003cff"/>
<circle cx="338.0" cy="916.9" r="6.21" fill="#b20000"/>
<circle cx="258.8" cy="990.0" r="6.21" fill="#ffd700"/>
<circle cx="528.2" cy="725.5" r="6.21" fill="#0008ff"/>
<circle cx="587.0" cy="713.0" r="6.21" fill="#00d4ff"/>
<circle cx="746.1" cy="572.0" r="6.21" fill="#002cff"/>
<circle cx="456.5" cy="804.4" r="6.21" fill="#40ffb7"/>
<circle cx="419.4" cy="833.7" r="6.21" fill="#33ffc4"/>
<circle cx="373.3" cy="893.5" r="6.21" fill="#ff6c00"/>
<circle cx="487.6" cy="769.5" r="6.21" fill="#0070ff"/>
<circle cx="799.3" cy="539.3" r="6.21" fill="#0004ff"/>
<circle cx="397.4" cy="883.7" r="6.21" fill="#a4ff53"/>
<circle cx="587.3" cy="686.2" r="6.21" fill="#004cff"/>
<circle cx="515.5" cy="789.9" r="6.21" fill="#23ffd4"/>
<circle cx="491.8" cy="819.1" r="6.21" fill="#0090ff"/>
<circle cx="512.6" cy="737.1" r="6.21" fill="#0000ff"/>
<circle cx="348.8" cy="909.6" r="6.21" fill="#df0000"/>
<circle cx="659.7" cy="627.4" r="6.21" fill="#0004ff"/>
<circle cx="379.3" cy="873.7" r="6.21" fill="#ffb600"/>
<circle cx="677.5" cy="627.1" r="6.21" fill="#0038ff"/>
<circle cx="496.5" cy="800.9" r="6.21" fill="#80ff77"/>
<circle cx="464.3" cy="844.6" r="6.21" fill="#0060ff"/>
</g>
<g stroke="#b0b0b0" stroke-width="2.222" fill="none">
<line x1="175" y1="144" x2="175" y2="1068"/>
<line x1="356" y1="144" x2="356" y2="1068"/>
<line x1="537" y1="144" x2="537" y2="1068"/>
<line x1="718" y1="144" x2="718" y2="1068"/>
<line x1="898" y1="144" x2="898" y2="1068"/>
<line x1="1079" y1="144" x2="1079" y2="1068"/>
<line x1="1260" y1="144" x2="1260" y2="1068"/>
<line x1="175" y1="1068" x2="1260" y2="1068"/>
<line x1="175" y1="914" x2="1260" y2="914"/>
<line x1="175" y1="760" x2="1260" y2="760"/>
<line x1="175" y1="606" x2="1260" y2="606"/>
<line x1="175" y1="452" x2="1260" y2="452"/>
<line x1="175" y1="298" x2="1260" y2="298"/>
<line x1="175" y1="144" x2="1260" y2="144"/>
</g>
<g clip-path="url(#ax)" stroke="#000" fill="none" stroke-width="4.167">
<line x1="175.00" y1="1061.69" x2="1260.00" y2="137.69" stroke-linecap="square"/>
<line x1="175.00" y1="1068.00" x2="1260.00" y2="144.00" stroke-dasharray="15.417 6.667"/>
</g>
<rect x="175" y="144" width="1085" height="924" fill="none" stroke="#000" stroke-width="2.222"/>
<g stroke="#000" stroke-width="2.222">
<line x1="175" y1="1068" x2="175" y2="1077.72"/>
<line x1="175" y1="1068" x2="165.28" y2="1068"/>
<line x1="356" y1="1068" x2="356" y2="1077.72"/>
<line x1="175" y1="914" x2="165.28" y2="914"/>
<line x1="537" y1="1068" x2="537" y2="1077.72"/>
<line x1="175" y1="760" x2="165.28" y2="760"/>
<line x1="718" y1="1068" x2="718" y2="1077.72"/>
<line x1="175" y1="606" x2="165.28" y2="606"/>
<line x1="898" y1="1068" x2="898" y2="1077.72"/>
<line x1="175" y1="452" x2="165.28" y2="452"/>
<line x1="1079" y1="1068" x2="1079" y2="1077.72"/>
<line x1="175" y1="298" x2="165.28" y2="298"/>
<line x1="1260" y1="1068" x2="1260" y2="1077.72"/>
<line x1="175" y1="144" x2="165.28" y2="144"/>
</g>
<g font-size="27.778">
<text x="175.70" y="1109.44" text-anchor="middle">0</text>
<text x="356.53" y="1109.44" text-anchor="middle">10</text>
<text x="537.37" y="1109.44" text-anchor="middle">20</text>
<text x="718.20" y="1109.44" text-anchor="middle">30</text>
<text x="899.03" y="1109.44" text-anchor="middle">40</text>
<text x="1079.87" y="1109.44" text-anchor="middle">50</text>
<text x="1260.70" y="1109.44" text-anchor="middle">60</text>
<text x="155.06" y="1079.00" text-anchor="end">0</text>
<text x="155.06" y="925.00" text-anchor="end">10</text>
<text x="155.06" y="771.00" text-anchor="end">20</text>
<text x="155.06" y="617.00" text-anchor="end">30</text>
<text x="155.06" y="463.00" text-anchor="end">40</text>
<text x="155.06" y="309.00" text-anchor="end">50</text>
<text x="155.06" y="155.00" text-anchor="end">60</text>
<text transform="translate(641.00 1153.00)" xml:space="preserve"><tspan x="0" y="0">gfz [kg/m</tspan><tspan x="131.94" y="-11.2" font-size="19.444">2</tspan><tspan x="145.10" y="0">]</tspan></text>
<text transform="translate(99.00 707.00) rotate(-90)" xml:space="preserve"><tspan x="0" y="0">COWA [kg/m</tspan><tspan x="177.63" y="-11.2" font-size="19.444">2</tspan><tspan x="190.79" y="0">]</tspan></text>
</g>
<path d="M784.33 1048.61L1227.45 1048.61Q1235.78 1048.61 1235.78 1040.28L1235.78 829.84Q1235.78 821.51 1227.45 821.51L784.33 821.51Q776.00 821.51 776.00 829.84L776.00 1040.28Q776.00 1048.61 784.33 1048.61Z" fill="#f5deb3" stroke="#000" stroke-width="2.778" stroke-linejoin="miter" fill-opacity="0.6" stroke-opacity="0.6"/>
<g font-size="27.778">
<text x="979.70" y="851.84" xml:space="preserve">y = 1.00x + 0.41 </text>
<text transform="translate(1098.70 885.50)" xml:space="preserve"><tspan x="0" y="0">r</tspan><tspan x="11.69" y="-11.2" font-size="19.444">2</tspan><tspan x="24.85" y="0"> = 0.98</tspan></text>
<text transform="translate(952.80 925.00)" xml:space="preserve"><tspan x="0" y="0">bias = 0.40 [kg/m</tspan><tspan x="249.46" y="-11.2" font-size="19.444">2</tspan><tspan x="262.62" y="0">]</tspan></text>
<text transform="translate(784.70 966.40)" xml:space="preserve"><tspan x="0" y="0">rmsd = 1.4 (1.3) [kg/m</tspan><tspan x="320.14" y="-11.2" font-size="19.444">2</tspan><tspan x="333.30" y="0">] 15.0%</tspan></text>
<text x="1013.95" y="1001.88" xml:space="preserve">n valid = 2268 </text>
<text x="916.45" y="1034.28">n matchups = 512421</text>
</g>
</svg></body></html>
